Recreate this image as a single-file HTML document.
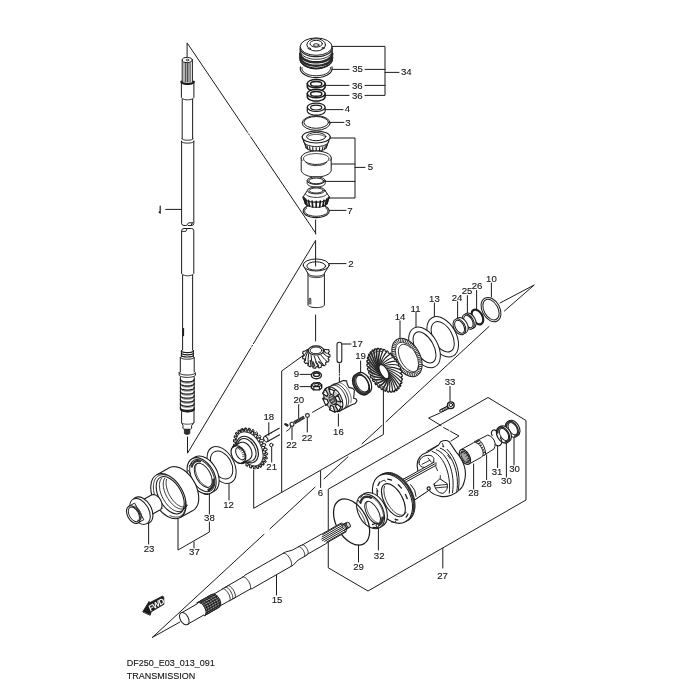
<!DOCTYPE html>
<html><head><meta charset="utf-8"><title>DF250 Transmission</title>
<style>
html,body{margin:0;padding:0;background:#fff;}
svg{display:block;}
text{font-family:"Liberation Sans",sans-serif;fill:#161616;}
</style></head><body>
<svg width="700" height="700" viewBox="0 0 700 700" stroke-linecap="round" stroke-linejoin="round">
<defs><filter id="soft" x="0" y="0" width="700" height="700" filterUnits="userSpaceOnUse"><feGaussianBlur stdDeviation="0.3"/></filter></defs>
<rect width="700" height="700" fill="#fff"/>
<g filter="url(#soft)">
<path d="M187.1,57 L187.1,42.9 L247.6,132.4 M248.7,134.0 L249.4,135.1 M250.6,136.8 L315.6,233 M315.6,220 L315.6,234" fill="none" stroke="#1c1c1c" stroke-width="1" />
<path d="M315.6,265 L315.6,240.4 L253.4,343.7 M252.4,345.4 L251.8,346.4 M250.8,348.0 L187.5,453.2 L187.5,437" fill="none" stroke="#1c1c1c" stroke-width="1" />
<path d="M315.6,315 L315.6,341" fill="none" stroke="#1c1c1c" stroke-width="1" />
<path d="M152.4,637.4 L264,534.3 M270,528.8 L315,487.2 M324,478.9 L348,456.8 M362,443.8 L382,425.4 M386,421.7 L489,326.5 M504.4,311 L534.3,284.9 L500,303 M152.4,637.4 L180,622" fill="none" stroke="#1c1c1c" stroke-width="1" />
<path d="M253.7,470 L253.7,508.3 L383.4,434.5 L383.4,388 M281.7,491.8 L281.7,371 L303,355.6 M320.6,471 L320.6,487.5" fill="none" stroke="#1c1c1c" stroke-width="1" />
<path d="M328.6,489 L488,397.5 L526,420.5 L526,500 L368,591 L328.6,568 Z M442.8,548.5 L442.8,568" fill="none" stroke="#1c1c1c" stroke-width="1" />
<path d="M332.4,46.4 H385 V95.4 H365 M332,69.4 H349 M365,69.4 H385 M385,72.4 H399 M325,85.4 H349 M365,85.4 H385 M325,95.4 H349" fill="none" stroke="#1c1c1c" stroke-width="1" />
<path d="M330,138 H355 V198 H329 M331,164 H355 M325,181.4 H355 M355,167.4 H365" fill="none" stroke="#1c1c1c" stroke-width="1" />
<path d="M325,109.6 H343 M330,122.4 H344 M329.4,210.4 H346 M329,263.6 H346 M165.7,209.4 H181.4" fill="none" stroke="#1c1c1c" stroke-width="1" />
<path d="M341.4,344 H351 M360.6,361 V373 M400,321 V338 M416,312.4 V327 M434.4,303 V317 M457.6,301.6 V318.4 M467.4,295.6 V313.6 M476.6,290.4 V310 M491.4,283 V297" fill="none" stroke="#1c1c1c" stroke-width="1" />
<path d="M300,374.4 H311 M300,386.6 H311 M298.7,404.6 V418 M268.8,422.6 V435.4 M292,426.9 V439.7 M307.3,418.3 V432 M338.4,414 V426 M271.7,447.4 V462 M450,386.4 V401" fill="none" stroke="#1c1c1c" stroke-width="1" />
<path d="M229,484 V500 M209.4,494 V514 M209.4,522 V532 L178,550 V519 M194,542 V548 M148.6,523 V544 M276.5,573.8 V595 M358.5,545 V562 M378.4,524 V550" fill="none" stroke="#1c1c1c" stroke-width="1" />
<path d="M473.6,464 V489 M486.6,455 V479.6 M497.6,445.6 V467.6 M506.4,441 V477 M514,437.6 V465" fill="none" stroke="#1c1c1c" stroke-width="1" />
<path d="M440,413 L428.6,418 L441,425.6 M443.6,427.6 L449,430.4 M450.5,431.3 L459,436 L451,441" fill="none" stroke="#1c1c1c" stroke-width="1" />
<path d="M312.5,412.3 L324,405.8" fill="none" stroke="#1c1c1c" stroke-width="1" />
<path d="M339.4,364.1 V372.7 M339.4,374 V375.3 M339.4,377 V386" fill="none" stroke="#1c1c1c" stroke-width="1" />
<ellipse cx="491.0" cy="309.6" rx="8.8" ry="13.0" transform="rotate(-29.0 491.0 309.6)" fill="#fff" stroke="#1c1c1c" stroke-width="1" />
<ellipse cx="491.0" cy="309.6" rx="7.0" ry="11.1" transform="rotate(-29.0 491.0 309.6)" fill="#fff" stroke="#1c1c1c" stroke-width="1" />
<ellipse cx="477.4" cy="317.0" rx="5.0" ry="8.0" transform="rotate(-29.0 477.4 317.0)" fill="#fff" stroke="#1c1c1c" stroke-width="2.2" />
<ellipse cx="470.0" cy="320.6" rx="5.3" ry="8.2" transform="rotate(-29.0 470.0 320.6)" fill="#fff" stroke="#1c1c1c" stroke-width="1" />
<ellipse cx="468.2" cy="321.6" rx="5.3" ry="8.2" transform="rotate(-29.0 468.2 321.6)" fill="#fff" stroke="#1c1c1c" stroke-width="1" />
<ellipse cx="468.4" cy="321.5" rx="3.9" ry="6.7" transform="rotate(-29.0 468.4 321.5)" fill="#fff" stroke="#1c1c1c" stroke-width="1" />
<ellipse cx="461.8" cy="325.4" rx="5.6" ry="8.5" transform="rotate(-29.0 461.8 325.4)" fill="#fff" stroke="#1c1c1c" stroke-width="1" />
<ellipse cx="459.4" cy="326.8" rx="5.6" ry="8.5" transform="rotate(-29.0 459.4 326.8)" fill="#fff" stroke="#1c1c1c" stroke-width="1" />
<ellipse cx="459.6" cy="326.7" rx="4.2" ry="7.0" transform="rotate(-29.0 459.6 326.7)" fill="#fff" stroke="#1c1c1c" stroke-width="1" />
<ellipse cx="442.7" cy="336.8" rx="13.5" ry="21.8" transform="rotate(-29.0 442.7 336.8)" fill="#fff" stroke="#1c1c1c" stroke-width="1" />
<ellipse cx="442.7" cy="336.8" rx="9.6" ry="16.5" transform="rotate(-29.0 442.7 336.8)" fill="#fff" stroke="#1c1c1c" stroke-width="1" />
<ellipse cx="424.5" cy="347.4" rx="13.4" ry="22.0" transform="rotate(-29.0 424.5 347.4)" fill="#fff" stroke="#1c1c1c" stroke-width="1" />
<ellipse cx="424.5" cy="347.4" rx="9.1" ry="17.0" transform="rotate(-29.0 424.5 347.4)" fill="#fff" stroke="#1c1c1c" stroke-width="1" />
<ellipse cx="407.0" cy="357.5" rx="13.0" ry="20.7" transform="rotate(-29.0 407.0 357.5)" fill="#fff" stroke="#1c1c1c" stroke-width="1" />
<ellipse cx="407.0" cy="357.5" rx="11.3" ry="18.8" transform="rotate(-29.0 407.0 357.5)" fill="#fff" stroke="#2a2a2a" stroke-width="3.3" stroke-dasharray="0.9 0.9" stroke-linecap="butt"/>
<ellipse cx="407.0" cy="357.5" rx="9.6" ry="16.8" transform="rotate(-29.0 407.0 357.5)" fill="#fff" stroke="#1c1c1c" stroke-width="0.8" />
<path d="M410.9,348.1 L409.7,347.0 L408.5,346.1 L407.3,345.4 L406.0,344.8 L404.9,344.5 L403.7,344.3 L402.7,344.4 L401.7,344.6 L400.9,345.1 L400.1,345.8 L399.5,346.6 L399.0,347.6 L398.7,348.8 L398.5,350.0 L398.4,351.5 L398.5,353.0 L398.8,354.6 L399.2,356.2 L399.7,357.9 L400.3,359.5 L401.1,361.2 L402.0,362.8 L403.0,364.3 L404.1,365.7 L405.2,367.1 L406.4,368.2 L407.6,369.3 L408.9,370.1 L410.1,370.8 L411.3,371.3 L412.5,371.6 L413.6,371.7 L414.6,371.6 L415.5,371.2 L416.4,370.7 L417.1,370.0 L417.7,369.1 L418.1,368.1 L418.4,366.9 L418.6,365.6" fill="none" stroke="#1c1c1c" stroke-width="0.9" />
<path d="M331.9,66.9 L332.1,68.2 L332.0,69.6 L331.6,70.9 L330.8,72.1 L329.7,73.3 L328.4,74.3 L326.8,75.3 L324.9,76.1 L322.9,76.7 L320.8,77.2 L318.5,77.5 L316.2,77.6 L313.9,77.5 L311.6,77.2 L309.5,76.7 L307.5,76.1 L305.6,75.3 L304.0,74.3 L302.7,73.3 L301.6,72.1 L300.8,70.9 L300.4,69.6 L300.3,68.2 L300.5,66.9" fill="none" stroke="#1c1c1c" stroke-width="1.1" />
<path d="M330.4,67.6 L330.5,68.7 L330.2,69.7 L329.7,70.7 L329.0,71.7 L328.0,72.6 L326.7,73.4 L325.3,74.1 L323.7,74.7 L322.0,75.2 L320.1,75.5 L318.2,75.7 L316.2,75.8 L314.2,75.7 L312.3,75.5 L310.4,75.2 L308.7,74.7 L307.1,74.1 L305.7,73.4 L304.4,72.6 L303.4,71.7 L302.7,70.7 L302.2,69.7 L301.9,68.7 L302.0,67.6" fill="none" stroke="#1c1c1c" stroke-width="1.0" />
<path d="M300.2,46.8 V60 L300.2,60.0 L300.3,61.1 L300.7,62.3 L301.4,63.3 L302.3,64.3 L303.5,65.3 L304.9,66.2 L306.5,66.9 L308.2,67.5 L310.1,68.0 L312.1,68.4 L314.1,68.6 L316.2,68.7 L318.3,68.6 L320.3,68.4 L322.3,68.0 L324.2,67.5 L325.9,66.9 L327.5,66.2 L328.9,65.3 L330.1,64.3 L331.0,63.3 L331.7,62.3 L332.1,61.1 L332.2,60.0 V46.8 Z" fill="#fff" stroke="#1c1c1c" stroke-width="1" />
<path d="M303.9,62.8 L304.2,63.6 L304.7,64.4 L305.4,65.2 L306.2,65.9 L307.1,66.6 L308.2,67.2 L309.3,67.7 L310.6,68.1 L311.9,68.5 L313.3,68.7 L314.7,68.8 L316.2,68.9 L317.7,68.8 L319.1,68.7 L320.5,68.5 L321.8,68.1 L323.1,67.7 L324.2,67.2 L325.3,66.6 L326.2,65.9 L327.0,65.2 L327.7,64.4 L328.2,63.6 L328.5,62.8" fill="none" stroke="#1c1c1c" stroke-width="1.0" />
<path d="M300.2,48.3 L300.4,49.4 L300.9,50.5 L301.6,51.5 L302.5,52.5 L303.7,53.4 L305.1,54.3 L306.6,55.0 L308.4,55.6 L310.2,56.1 L312.1,56.4 L314.2,56.6 L316.2,56.7 L318.2,56.6 L320.3,56.4 L322.2,56.1 L324.0,55.6 L325.8,55.0 L327.3,54.3 L328.7,53.4 L329.9,52.5 L330.8,51.5 L331.5,50.5 L332.0,49.4 L332.2,48.3" fill="none" stroke="#222" stroke-width="1.2" />
<path d="M300.2,50.9 L300.4,52.0 L300.9,53.1 L301.6,54.1 L302.5,55.1 L303.7,56.0 L305.1,56.9 L306.6,57.6 L308.4,58.2 L310.2,58.7 L312.1,59.0 L314.2,59.2 L316.2,59.3 L318.2,59.2 L320.3,59.0 L322.2,58.7 L324.0,58.2 L325.8,57.6 L327.3,56.9 L328.7,56.0 L329.9,55.1 L330.8,54.1 L331.5,53.1 L332.0,52.0 L332.2,50.9" fill="none" stroke="#333" stroke-width="1.0" />
<path d="M300.2,53.9 L300.4,55.0 L300.9,56.1 L301.6,57.1 L302.5,58.1 L303.7,59.0 L305.1,59.9 L306.6,60.6 L308.4,61.2 L310.2,61.7 L312.1,62.0 L314.2,62.2 L316.2,62.3 L318.2,62.2 L320.3,62.0 L322.2,61.7 L324.0,61.2 L325.8,60.6 L327.3,59.9 L328.7,59.0 L329.9,58.1 L330.8,57.1 L331.5,56.1 L332.0,55.0 L332.2,53.9" fill="none" stroke="#2a2a2a" stroke-width="2.6" />
<path d="M300.2,57.3 L300.4,58.4 L300.9,59.5 L301.6,60.5 L302.5,61.5 L303.7,62.4 L305.1,63.3 L306.6,64.0 L308.4,64.6 L310.2,65.1 L312.1,65.4 L314.2,65.6 L316.2,65.7 L318.2,65.6 L320.3,65.4 L322.2,65.1 L324.0,64.6 L325.8,64.0 L327.3,63.3 L328.7,62.4 L329.9,61.5 L330.8,60.5 L331.5,59.5 L332.0,58.4 L332.2,57.3" fill="none" stroke="#2a2a2a" stroke-width="2.4" />
<path d="M300.2,59.6 L300.4,60.7 L300.9,61.8 L301.6,62.8 L302.5,63.8 L303.7,64.7 L305.1,65.6 L306.6,66.3 L308.4,66.9 L310.2,67.4 L312.1,67.7 L314.2,67.9 L316.2,68.0 L318.2,67.9 L320.3,67.7 L322.2,67.4 L324.0,66.9 L325.8,66.3 L327.3,65.6 L328.7,64.7 L329.9,63.8 L330.8,62.8 L331.5,61.8 L332.0,60.7 L332.2,59.6" fill="none" stroke="#222" stroke-width="1.2" />
<ellipse cx="316.2" cy="46.6" rx="16.0" ry="8.7" fill="#fff" stroke="#1c1c1c" stroke-width="1"/>
<ellipse cx="316.2" cy="44.8" rx="9.3" ry="6.2" fill="#fff" stroke="#1c1c1c" stroke-width="1"/>
<ellipse cx="316.2" cy="43.7" rx="6.2" ry="3.4" fill="#fff" stroke="#1c1c1c" stroke-width="1"/>
<ellipse cx="316.2" cy="45.0" rx="2.8" ry="1.3" fill="#fff" stroke="#1c1c1c" stroke-width="0.9"/>
<ellipse cx="309.3" cy="48.4" rx="1.2" ry="0.7" fill="none" stroke="#1c1c1c" stroke-width="0.8"/>
<ellipse cx="323.0" cy="48.1" rx="1.2" ry="0.7" fill="none" stroke="#1c1c1c" stroke-width="0.8"/>
<path d="M307.3,83.6 V86.8 L307.3,86.8 L307.4,87.3 L307.6,87.9 L308.0,88.4 L308.5,88.9 L309.1,89.4 L309.9,89.8 L310.8,90.1 L311.8,90.4 L312.8,90.7 L313.9,90.9 L315.0,91.0 L316.2,91.0 L317.4,91.0 L318.5,90.9 L319.6,90.7 L320.6,90.4 L321.6,90.1 L322.5,89.8 L323.3,89.4 L323.9,88.9 L324.4,88.4 L324.8,87.9 L325.0,87.3 L325.1,86.8 V83.6" fill="#fff" stroke="#1c1c1c" stroke-width="1.5" />
<ellipse cx="316.2" cy="83.6" rx="8.9" ry="4.2" fill="#fff" stroke="#1c1c1c" stroke-width="1.5"/>
<ellipse cx="316.2" cy="83.9" rx="5.6" ry="2.3" fill="#fff" stroke="#1c1c1c" stroke-width="1.5"/>
<path d="M307.3,93.6 V96.8 L307.3,96.8 L307.4,97.3 L307.6,97.9 L308.0,98.4 L308.5,98.9 L309.1,99.4 L309.9,99.8 L310.8,100.1 L311.8,100.4 L312.8,100.7 L313.9,100.9 L315.0,101.0 L316.2,101.0 L317.4,101.0 L318.5,100.9 L319.6,100.7 L320.6,100.4 L321.6,100.1 L322.5,99.8 L323.3,99.4 L323.9,98.9 L324.4,98.4 L324.8,97.9 L325.0,97.3 L325.1,96.8 V93.6" fill="#fff" stroke="#1c1c1c" stroke-width="1.5" />
<ellipse cx="316.2" cy="93.6" rx="8.9" ry="4.2" fill="#fff" stroke="#1c1c1c" stroke-width="1.5"/>
<ellipse cx="316.2" cy="93.9" rx="5.6" ry="2.3" fill="#fff" stroke="#1c1c1c" stroke-width="1.5"/>
<path d="M307.3,107.3 V110.89999999999999 L307.3,110.9 L307.4,111.4 L307.6,112.0 L308.0,112.5 L308.5,113.0 L309.1,113.5 L309.9,113.9 L310.8,114.2 L311.8,114.5 L312.8,114.8 L313.9,115.0 L315.0,115.1 L316.2,115.1 L317.4,115.1 L318.5,115.0 L319.6,114.8 L320.6,114.5 L321.6,114.2 L322.5,113.9 L323.3,113.5 L323.9,113.0 L324.4,112.5 L324.8,112.0 L325.0,111.4 L325.1,110.9 V107.3" fill="#fff" stroke="#1c1c1c" stroke-width="1.2" />
<ellipse cx="316.2" cy="107.3" rx="8.9" ry="4.2" fill="#fff" stroke="#1c1c1c" stroke-width="1.2"/>
<ellipse cx="316.2" cy="107.6" rx="5.6" ry="2.4" fill="#fff" stroke="#1c1c1c" stroke-width="1.2"/>
<ellipse cx="316.2" cy="123.0" rx="14.0" ry="7.3" fill="none" stroke="#1c1c1c" stroke-width="1"/>
<ellipse cx="316.2" cy="122.4" rx="12.3" ry="5.9" fill="none" stroke="#1c1c1c" stroke-width="1"/>
<path d="M302.2,137 L305.7,146.5 L305.7,146.5 L305.8,147.1 L306.1,147.7 L306.5,148.3 L307.1,148.8 L307.9,149.3 L308.8,149.8 L309.8,150.1 L310.9,150.5 L312.2,150.7 L313.5,150.9 L314.8,151.1 L316.2,151.1 L317.6,151.1 L318.9,150.9 L320.2,150.7 L321.4,150.5 L322.6,150.1 L323.6,149.8 L324.5,149.3 L325.3,148.8 L325.9,148.3 L326.3,147.7 L326.6,147.1 L326.7,146.5 L330.2,137 Z" fill="#fff" stroke="#1c1c1c" stroke-width="1" />
<path d="M303.6,141.5 L303.9,142.2 L304.3,142.8 L304.9,143.5 L305.7,144.1 L306.6,144.6 L307.7,145.1 L308.9,145.6 L310.2,145.9 L311.6,146.2 L313.1,146.4 L314.6,146.6 L316.2,146.6 L317.8,146.6 L319.3,146.4 L320.8,146.2 L322.2,145.9 L323.5,145.6 L324.7,145.1 L325.8,144.6 L326.7,144.1 L327.5,143.5 L328.1,142.8 L328.5,142.2 L328.8,141.5" fill="none" stroke="#1c1c1c" stroke-width="1.0" />
<path d="M305.3,144.4 L306.3,148.1" fill="none" stroke="#1c1c1c" stroke-width="1.1" />
<path d="M307.0,145.8 L307.9,149.3" fill="none" stroke="#1c1c1c" stroke-width="1.1" />
<path d="M309.5,146.9 L310.2,150.3" fill="none" stroke="#1c1c1c" stroke-width="1.1" />
<path d="M312.7,147.6 L313.0,150.9" fill="none" stroke="#1c1c1c" stroke-width="1.1" />
<path d="M316.2,147.8 L316.2,151.1" fill="none" stroke="#1c1c1c" stroke-width="1.1" />
<path d="M319.7,147.6 L319.4,150.9" fill="none" stroke="#1c1c1c" stroke-width="1.1" />
<path d="M322.9,146.9 L322.2,150.3" fill="none" stroke="#1c1c1c" stroke-width="1.1" />
<path d="M325.4,145.8 L324.5,149.3" fill="none" stroke="#1c1c1c" stroke-width="1.1" />
<path d="M327.1,144.4 L326.1,148.1" fill="none" stroke="#1c1c1c" stroke-width="1.1" />
<ellipse cx="316.2" cy="137.0" rx="14.0" ry="6.0" fill="#fff" stroke="#1c1c1c" stroke-width="1.2"/>
<ellipse cx="316.2" cy="136.6" rx="9.6" ry="4.1" fill="#fff" stroke="#1c1c1c" stroke-width="1"/>
<path d="M308.1,136.5 L308.5,136.2 L308.9,135.9 L309.4,135.7 L309.9,135.4 L310.6,135.2 L311.3,135.0 L312.0,134.8 L312.8,134.7 L313.6,134.5 L314.5,134.5 L315.3,134.4 L316.2,134.4 L317.1,134.4 L317.9,134.5 L318.8,134.5 L319.6,134.7 L320.4,134.8 L321.1,135.0 L321.8,135.2 L322.5,135.4 L323.0,135.7 L323.5,135.9 L323.9,136.2 L324.3,136.5" fill="none" stroke="#1c1c1c" stroke-width="0.8" />
<path d="M301.2,158 V170 L301.2,170.0 L301.3,170.9 L301.7,171.8 L302.3,172.7 L303.2,173.5 L304.3,174.3 L305.6,174.9 L307.1,175.6 L308.7,176.1 L310.5,176.5 L312.3,176.8 L314.2,176.9 L316.2,177.0 L318.2,176.9 L320.1,176.8 L321.9,176.5 L323.7,176.1 L325.3,175.6 L326.8,174.9 L328.1,174.3 L329.2,173.5 L330.1,172.7 L330.7,171.8 L331.1,170.9 L331.2,170.0 V158 Z" fill="#fff" stroke="#1c1c1c" stroke-width="1" />
<ellipse cx="316.2" cy="158.0" rx="15.0" ry="7.0" fill="#fff" stroke="none" stroke-width="1"/>
<path d="M302.1,160.4 L301.5,159.3 L301.2,158.2 L301.3,157.1 L301.8,156.0 L302.7,154.9 L303.9,154.0 L305.4,153.1 L307.2,152.4 L309.3,151.8 L311.5,151.4 L313.8,151.1 L316.2,151.0 L318.6,151.1 L320.9,151.4 L323.1,151.8 L325.2,152.4 L327.0,153.1 L328.5,154.0 L329.7,154.9 L330.6,156.0 L331.1,157.1 L331.2,158.2 L330.9,159.3 L330.3,160.4" fill="none" stroke="#1c1c1c" stroke-width="1" />
<path d="M328.8,158.8 L328.7,159.5 L328.4,160.2 L327.8,160.9 L327.1,161.6 L326.2,162.2 L325.1,162.8 L323.9,163.2 L322.5,163.6 L321.0,164.0 L319.5,164.2 L317.8,164.4 L316.2,164.4 L314.6,164.4 L312.9,164.2 L311.4,164.0 L309.9,163.6 L308.5,163.2 L307.3,162.8 L306.2,162.2 L305.3,161.6 L304.6,160.9 L304.0,160.2 L303.7,159.5 L303.6,158.8" fill="none" stroke="#1c1c1c" stroke-width="1.0" />
<path d="M303.6,158.2 L303.7,157.6 L304.0,157.0 L304.6,156.4 L305.3,155.9 L306.2,155.4 L307.3,154.9 L308.5,154.6 L309.9,154.2 L311.4,154.0 L312.9,153.8 L314.6,153.6 L316.2,153.6 L317.8,153.6 L319.5,153.8 L321.0,154.0 L322.5,154.2 L323.9,154.6 L325.1,154.9 L326.2,155.4 L327.1,155.9 L327.8,156.4 L328.4,157.0 L328.7,157.6 L328.8,158.2" fill="none" stroke="#1c1c1c" stroke-width="0.8" />
<path d="M306.0,162.3 L306.2,162.7 L306.7,163.2 L307.2,163.6 L307.9,164.0 L308.6,164.3 L309.5,164.7 L310.5,164.9 L311.5,165.2 L312.6,165.4 L313.8,165.5 L315.0,165.6 L316.2,165.6 L317.4,165.6 L318.6,165.5 L319.8,165.4 L320.9,165.2 L321.9,164.9 L322.9,164.7 L323.8,164.3 L324.5,164.0 L325.2,163.6 L325.7,163.2 L326.2,162.7 L326.4,162.3" fill="none" stroke="#1c1c1c" stroke-width="0.9" />
<path d="M307.2,180.6 V183.2 L307.2,183.2 L307.3,183.7 L307.5,184.2 L307.9,184.7 L308.4,185.1 L309.1,185.5 L309.8,185.9 L310.7,186.2 L311.7,186.5 L312.8,186.7 L313.9,186.9 L315.0,187.0 L316.2,187.0 L317.4,187.0 L318.5,186.9 L319.6,186.7 L320.7,186.5 L321.7,186.2 L322.6,185.9 L323.3,185.5 L324.0,185.1 L324.5,184.7 L324.9,184.2 L325.1,183.7 L325.2,183.2 V180.6" fill="#fff" stroke="#1c1c1c" stroke-width="1.0" />
<ellipse cx="316.2" cy="180.6" rx="9.0" ry="3.8" fill="#fff" stroke="#1c1c1c" stroke-width="1.0"/>
<ellipse cx="316.2" cy="180.9" rx="7.4" ry="2.9" fill="#fff" stroke="#1c1c1c" stroke-width="1.0"/>
<path d="M307.4,190.5 L303.0,197 L305.0,203 L305.0,203.0 L305.1,203.6 L305.4,204.1 L305.9,204.6 L306.5,205.2 L307.3,205.6 L308.3,206.0 L309.4,206.4 L310.6,206.7 L311.9,207.0 L313.3,207.2 L314.7,207.3 L316.2,207.3 L317.7,207.3 L319.1,207.2 L320.5,207.0 L321.8,206.7 L323.0,206.4 L324.1,206.0 L325.1,205.6 L325.9,205.2 L326.5,204.6 L327.0,204.1 L327.3,203.6 L327.4,203.0 L329.4,197 L325.0,190.5 Z" fill="#fff" stroke="#1c1c1c" stroke-width="1" />
<path d="M303.0,197.0 L303.1,197.7 L303.4,198.3 L304.0,199.0 L304.8,199.6 L305.7,200.2 L306.9,200.7 L308.2,201.1 L309.6,201.5 L311.1,201.8 L312.8,202.0 L314.5,202.2 L316.2,202.2 L317.9,202.2 L319.6,202.0 L321.3,201.8 L322.8,201.5 L324.2,201.1 L325.5,200.7 L326.7,200.2 L327.6,199.6 L328.4,199.0 L329.0,198.3 L329.3,197.7 L329.4,197.0" fill="none" stroke="#1c1c1c" stroke-width="1.2" />
<path d="M305.6,193.7 L305.8,194.2 L306.2,194.7 L306.7,195.2 L307.3,195.6 L308.1,196.0 L309.0,196.3 L310.1,196.7 L311.2,196.9 L312.4,197.1 L313.6,197.3 L314.9,197.4 L316.2,197.4 L317.5,197.4 L318.8,197.3 L320.0,197.1 L321.2,196.9 L322.3,196.7 L323.4,196.3 L324.3,196.0 L325.1,195.6 L325.7,195.2 L326.2,194.7 L326.6,194.2 L326.8,193.7" fill="none" stroke="#1c1c1c" stroke-width="0.9" />
<path d="M304.0,197.7 L305.6,203.9" fill="none" stroke="#1c1c1c" stroke-width="1.7" />
<path d="M305.7,199.2 L307.1,205.1" fill="none" stroke="#1c1c1c" stroke-width="1.7" />
<path d="M308.5,200.4 L309.5,206.1" fill="none" stroke="#1c1c1c" stroke-width="1.7" />
<path d="M312.1,201.1 L312.7,206.8" fill="none" stroke="#1c1c1c" stroke-width="1.7" />
<path d="M316.2,201.4 L316.2,207.0" fill="none" stroke="#1c1c1c" stroke-width="1.7" />
<path d="M320.3,201.1 L319.7,206.8" fill="none" stroke="#1c1c1c" stroke-width="1.7" />
<path d="M323.9,200.4 L322.9,206.1" fill="none" stroke="#1c1c1c" stroke-width="1.7" />
<path d="M326.7,199.2 L325.3,205.1" fill="none" stroke="#1c1c1c" stroke-width="1.7" />
<path d="M328.4,197.7 L326.8,203.9" fill="none" stroke="#1c1c1c" stroke-width="1.7" />
<ellipse cx="316.2" cy="190.5" rx="8.8" ry="3.4" fill="#fff" stroke="#1c1c1c" stroke-width="1"/>
<ellipse cx="316.2" cy="190.5" rx="7.0" ry="2.5" fill="#fff" stroke="#1c1c1c" stroke-width="0.9"/>
<path d="M322.7,205.3 L325.0,206.1 L326.8,207.2 L328.2,208.5 L329.0,209.9 L329.2,211.3 L328.8,212.7 L327.7,214.0 L326.2,215.2 L324.1,216.2 L321.7,217.0 L319.0,217.4 L316.2,217.6 L313.4,217.4 L310.7,217.0 L308.3,216.2 L306.2,215.2 L304.7,214.0 L303.6,212.7 L303.2,211.3 L303.4,209.9 L304.2,208.5 L305.6,207.2 L307.4,206.1 L309.7,205.3" fill="none" stroke="#1c1c1c" stroke-width="1.1" />
<path d="M325.7,208.0 L326.7,208.8 L327.4,209.7 L327.8,210.7 L327.7,211.6 L327.3,212.6 L326.5,213.4 L325.4,214.3 L323.9,215.0 L322.2,215.5 L320.3,216.0 L318.3,216.2 L316.2,216.3 L314.1,216.2 L312.1,216.0 L310.2,215.5 L308.5,215.0 L307.0,214.3 L305.9,213.4 L305.1,212.6 L304.7,211.6 L304.6,210.7 L305.0,209.7 L305.7,208.8 L306.7,208.0" fill="none" stroke="#1c1c1c" stroke-width="1.0" />
<path d="M308.0,273 V305 L308.0,305.0 L308.1,305.3 L308.3,305.7 L308.6,306.0 L309.1,306.3 L309.7,306.6 L310.4,306.8 L311.2,307.1 L312.1,307.3 L313.1,307.4 L314.1,307.5 L315.1,307.6 L316.2,307.6 L317.3,307.6 L318.3,307.5 L319.3,307.4 L320.3,307.3 L321.2,307.1 L322.0,306.8 L322.7,306.6 L323.3,306.3 L323.8,306.0 L324.1,305.7 L324.3,305.3 L324.4,305.0 V273 Z" fill="#fff" stroke="#1c1c1c" stroke-width="1" />
<path d="M303.2,265.5 L308.0,273.5 L308.0,273.2 L308.1,273.6 L308.3,274.0 L308.6,274.3 L309.1,274.7 L309.7,275.0 L310.4,275.3 L311.2,275.6 L312.1,275.8 L313.1,276.0 L314.1,276.1 L315.1,276.2 L316.2,276.2 L317.3,276.2 L318.3,276.1 L319.3,276.0 L320.3,275.8 L321.2,275.6 L322.0,275.3 L322.7,275.0 L323.3,274.7 L323.8,274.3 L324.1,274.0 L324.3,273.6 L324.4,273.2 L329.2,265.5" fill="#fff" stroke="#1c1c1c" stroke-width="1" />
<ellipse cx="316.2" cy="265.0" rx="13.0" ry="6.0" fill="#fff" stroke="#1c1c1c" stroke-width="1"/>
<ellipse cx="316.2" cy="266.0" rx="9.4" ry="4.2" fill="#fff" stroke="#1c1c1c" stroke-width="1"/>
<path d="M308.1,275.1 L308.3,275.5 L308.7,275.8 L309.1,276.1 L309.6,276.4 L310.2,276.7 L310.9,276.9 L311.7,277.1 L312.5,277.3 L313.4,277.4 L314.3,277.5 L315.2,277.6 L316.2,277.6 L317.2,277.6 L318.1,277.5 L319.0,277.4 L319.9,277.3 L320.7,277.1 L321.5,276.9 L322.2,276.7 L322.8,276.4 L323.3,276.1 L323.7,275.8 L324.1,275.5 L324.3,275.1" fill="none" stroke="#1c1c1c" stroke-width="0.9" />
<path d="M309.2,304 V298.6 Q310,297.4 310.8,298.6 V304" fill="none" stroke="#1c1c1c" stroke-width="0.9" />
<path d="M315.6,258 V266" fill="none" stroke="#1c1c1c" stroke-width="1" />
<path d="M182.2,60 V83 H192.4 V60 Z" fill="#fff" stroke="#1c1c1c" stroke-width="1" />
<path d="M184,62.5 V82.5" fill="none" stroke="#666" stroke-width="1.0" />
<path d="M185.6,62.5 V82.5" fill="none" stroke="#555" stroke-width="1.2" />
<path d="M187.3,62.5 V82.5" fill="none" stroke="#444" stroke-width="1.3" />
<path d="M189,62.5 V82.5" fill="none" stroke="#555" stroke-width="1.2" />
<path d="M190.6,62.5 V82.5" fill="none" stroke="#777" stroke-width="1.0" />
<ellipse cx="187.3" cy="60.0" rx="5.1" ry="2.6" fill="#fff" stroke="#1c1c1c" stroke-width="1"/>
<ellipse cx="187.4" cy="60.0" rx="1.3" ry="0.8" fill="none" stroke="#1c1c1c" stroke-width="0.8"/>
<path d="M181.4,82.5 V97.2 L181.3,97.2 L181.4,97.5 L181.5,97.9 L181.8,98.2 L182.1,98.5 L182.6,98.8 L183.1,99.0 L183.8,99.3 L184.4,99.5 L185.2,99.6 L186.0,99.7 L186.8,99.8 L187.6,99.8 L188.4,99.8 L189.2,99.7 L190.0,99.6 L190.8,99.5 L191.4,99.3 L192.1,99.0 L192.6,98.8 L193.1,98.5 L193.4,98.2 L193.7,97.9 L193.8,97.5 L193.9,97.2 V82.5" fill="#fff" stroke="#1c1c1c" stroke-width="1" />
<path d="M181.3,81.6 L181.4,81.9 L181.5,82.2 L181.8,82.5 L182.1,82.8 L182.6,83.1 L183.1,83.3 L183.8,83.5 L184.4,83.7 L185.2,83.8 L186.0,83.9 L186.8,84.0 L187.6,84.0 L188.4,84.0 L189.2,83.9 L190.0,83.8 L190.8,83.7 L191.4,83.5 L192.1,83.3 L192.6,83.1 L193.1,82.8 L193.4,82.5 L193.7,82.2 L193.8,81.9 L193.9,81.6" fill="none" stroke="#1c1c1c" stroke-width="2.0" />
<path d="M182.2,99.4 V138.5 M192.6,99.4 V138.5" fill="none" stroke="#1c1c1c" stroke-width="1" />
<path d="M181.9,138.6 L181.9,138.8 L182.1,139.0 L182.3,139.2 L182.7,139.4 L183.1,139.6 L183.5,139.7 L184.1,139.9 L184.7,140.0 L185.4,140.1 L186.1,140.1 L186.8,140.2 L187.5,140.2 L188.2,140.2 L188.9,140.1 L189.6,140.1 L190.3,140.0 L190.9,139.9 L191.5,139.7 L191.9,139.6 L192.3,139.4 L192.7,139.2 L192.9,139.0 L193.1,138.8 L193.1,138.6 M181.3,141.3 L181.4,141.5 L181.5,141.8 L181.8,142.0 L182.1,142.2 L182.6,142.4 L183.1,142.6 L183.8,142.7 L184.4,142.9 L185.2,143.0 L186.0,143.0 L186.8,143.1 L187.6,143.1 L188.4,143.1 L189.2,143.0 L190.0,143.0 L190.8,142.9 L191.4,142.7 L192.1,142.6 L192.6,142.4 L193.1,142.2 L193.4,142.0 L193.7,141.8 L193.8,141.5 L193.9,141.3" fill="none" stroke="#1c1c1c" stroke-width="1.0" />
<path d="M181.6,141 V223.4 Q181.7,225.5 184,225.5 H186.4 L188.6,222.8 H192.4 M193.8,141 V223.6 Q193.7,225.4 191.6,225.5 H188.2 M192.4,222.8 L191,225.4" fill="none" stroke="#1c1c1c" stroke-width="1.0" />
<path d="M181.6,273 V230.8 Q181.7,228.5 184,228.5 H191.4 Q193.7,228.5 193.8,230.8 V273 L193.8,273.0 L193.7,273.4 L193.6,273.7 L193.3,274.1 L193.0,274.4 L192.5,274.7 L192.0,275.0 L191.4,275.2 L190.8,275.4 L190.0,275.6 L189.3,275.7 L188.5,275.8 L187.7,275.8 L186.9,275.8 L186.1,275.7 L185.4,275.6 L184.6,275.4 L184.0,275.2 L183.4,275.0 L182.9,274.7 L182.4,274.4 L182.1,274.1 L181.8,273.7 L181.7,273.4 L181.6,273.0" fill="none" stroke="#1c1c1c" stroke-width="1.0" />
<path d="M181.9,231.4 H185.8 L187,228.8" fill="none" stroke="#1c1c1c" stroke-width="0.9" />
<path d="M182.6,275.3 V350 M192.6,275.3 V350" fill="none" stroke="#1c1c1c" stroke-width="1" />
<path d="M183.4,328.6 V335.6" fill="none" stroke="#1c1c1c" stroke-width="1.4" />
<path d="M181.4,351.0 L181.5,351.2 L181.6,351.4 L181.9,351.6 L182.2,351.8 L182.6,352.0 L183.2,352.1 L183.7,352.3 L184.4,352.4 L185.1,352.5 L185.8,352.5 L186.6,352.6 L187.4,352.6 L188.2,352.6 L189.0,352.5 L189.7,352.5 L190.4,352.4 L191.1,352.3 L191.6,352.1 L192.2,352.0 L192.6,351.8 L192.9,351.6 L193.2,351.4 L193.3,351.2 L193.4,351.0" fill="none" stroke="#1c1c1c" stroke-width="1.2" />
<path d="M181.4,353.2 L181.5,353.4 L181.6,353.6 L181.9,353.8 L182.2,354.0 L182.6,354.2 L183.2,354.3 L183.7,354.5 L184.4,354.6 L185.1,354.7 L185.8,354.7 L186.6,354.8 L187.4,354.8 L188.2,354.8 L189.0,354.7 L189.7,354.7 L190.4,354.6 L191.1,354.5 L191.6,354.3 L192.2,354.2 L192.6,354.0 L192.9,353.8 L193.2,353.6 L193.3,353.4 L193.4,353.2" fill="none" stroke="#1c1c1c" stroke-width="1.2" />
<path d="M181.4,355.4 L181.5,355.6 L181.6,355.8 L181.9,356.0 L182.2,356.2 L182.6,356.4 L183.2,356.5 L183.7,356.7 L184.4,356.8 L185.1,356.9 L185.8,356.9 L186.6,357.0 L187.4,357.0 L188.2,357.0 L189.0,356.9 L189.7,356.9 L190.4,356.8 L191.1,356.7 L191.6,356.5 L192.2,356.4 L192.6,356.2 L192.9,356.0 L193.2,355.8 L193.3,355.6 L193.4,355.4" fill="none" stroke="#1c1c1c" stroke-width="1.2" />
<path d="M181.4,350.5 V357 M193.4,350.5 V357" fill="none" stroke="#1c1c1c" stroke-width="1" />
<path d="M180.3,357.6 V372 M194.2,357.6 V372" fill="none" stroke="#1c1c1c" stroke-width="1" />
<path d="M180.4,357.4 L180.4,357.6 L180.6,357.9 L180.9,358.1 L181.3,358.3 L181.8,358.5 L182.4,358.7 L183.1,358.8 L183.8,359.0 L184.6,359.1 L185.5,359.1 L186.4,359.2 L187.3,359.2 L188.2,359.2 L189.1,359.1 L190.0,359.1 L190.8,359.0 L191.5,358.8 L192.2,358.7 L192.8,358.5 L193.3,358.3 L193.7,358.1 L194.0,357.9 L194.2,357.6 L194.2,357.4" fill="none" stroke="#1c1c1c" stroke-width="1.0" />
<path d="M179.2,372.6 V375 L179.2,375.0 L179.3,375.3 L179.5,375.6 L179.8,375.9 L180.3,376.2 L180.9,376.5 L181.6,376.7 L182.4,376.9 L183.2,377.1 L184.2,377.2 L185.2,377.3 L186.2,377.4 L187.3,377.4 L188.4,377.4 L189.4,377.3 L190.4,377.2 L191.4,377.1 L192.2,376.9 L193.0,376.7 L193.7,376.5 L194.3,376.2 L194.8,375.9 L195.1,375.6 L195.3,375.3 L195.4,375.0 V372.6 L195.4,372.6 L195.3,372.9 L195.1,373.2 L194.8,373.5 L194.3,373.8 L193.7,374.1 L193.0,374.3 L192.2,374.5 L191.4,374.7 L190.4,374.8 L189.4,374.9 L188.4,375.0 L187.3,375.0 L186.2,375.0 L185.2,374.9 L184.2,374.8 L183.2,374.7 L182.4,374.5 L181.6,374.3 L180.9,374.1 L180.3,373.8 L179.8,373.5 L179.5,373.2 L179.3,372.9 L179.2,372.6" fill="#fff" stroke="#1c1c1c" stroke-width="1.0" />
<path d="M180.4,379.3 L180.4,379.6 L180.5,380.0 L180.8,380.3 L181.1,380.6 L181.6,380.9 L182.2,381.2 L182.9,381.4 L183.7,381.6 L184.5,381.8 L185.4,381.9 L186.3,382.0 L187.3,382.0 L188.3,382.0 L189.2,381.9 L190.1,381.8 L190.9,381.6 L191.7,381.4 L192.4,381.2 L193.0,380.9 L193.5,380.6 L193.8,380.3 L194.1,380.0 L194.2,379.6 L194.2,379.3" fill="none" stroke="#1c1c1c" stroke-width="1.3" />
<path d="M181.0,381.3 L181.1,381.5 L181.3,381.8 L181.6,382.0 L182.0,382.2 L182.5,382.4 L183.0,382.6 L183.6,382.7 L184.3,382.9 L185.0,383.0 L185.8,383.0 L186.5,383.1 L187.3,383.1 L188.1,383.1 L188.8,383.0 L189.6,383.0 L190.3,382.9 L191.0,382.7 L191.6,382.6 L192.1,382.4 L192.6,382.2 L193.0,382.0 L193.3,381.8 L193.5,381.5 L193.6,381.3" fill="none" stroke="#555" stroke-width="0.7" />
<path d="M180.4,383.3 L180.4,383.7 L180.5,384.0 L180.8,384.4 L181.1,384.7 L181.6,385.0 L182.2,385.2 L182.9,385.5 L183.7,385.7 L184.5,385.8 L185.4,386.0 L186.3,386.0 L187.3,386.1 L188.3,386.0 L189.2,386.0 L190.1,385.8 L190.9,385.7 L191.7,385.5 L192.4,385.2 L193.0,385.0 L193.5,384.7 L193.8,384.4 L194.1,384.0 L194.2,383.7 L194.2,383.3" fill="none" stroke="#1c1c1c" stroke-width="1.3" />
<path d="M181.0,385.3 L181.1,385.6 L181.3,385.8 L181.6,386.0 L182.0,386.2 L182.5,386.4 L183.0,386.6 L183.6,386.8 L184.3,386.9 L185.0,387.0 L185.8,387.1 L186.5,387.1 L187.3,387.2 L188.1,387.1 L188.8,387.1 L189.6,387.0 L190.3,386.9 L191.0,386.8 L191.6,386.6 L192.1,386.4 L192.6,386.2 L193.0,386.0 L193.3,385.8 L193.5,385.6 L193.6,385.3" fill="none" stroke="#555" stroke-width="0.7" />
<path d="M180.4,387.4 L180.4,387.7 L180.5,388.1 L180.8,388.4 L181.1,388.7 L181.6,389.0 L182.2,389.3 L182.9,389.5 L183.7,389.7 L184.5,389.9 L185.4,390.0 L186.3,390.1 L187.3,390.1 L188.3,390.1 L189.2,390.0 L190.1,389.9 L190.9,389.7 L191.7,389.5 L192.4,389.3 L193.0,389.0 L193.5,388.7 L193.8,388.4 L194.1,388.1 L194.2,387.7 L194.2,387.4" fill="none" stroke="#1c1c1c" stroke-width="1.3" />
<path d="M181.0,389.4 L181.1,389.6 L181.3,389.9 L181.6,390.1 L182.0,390.3 L182.5,390.5 L183.0,390.7 L183.6,390.8 L184.3,391.0 L185.0,391.1 L185.8,391.1 L186.5,391.2 L187.3,391.2 L188.1,391.2 L188.8,391.1 L189.6,391.1 L190.3,391.0 L191.0,390.8 L191.6,390.7 L192.1,390.5 L192.6,390.3 L193.0,390.1 L193.3,389.9 L193.5,389.6 L193.6,389.4" fill="none" stroke="#555" stroke-width="0.7" />
<path d="M180.4,391.4 L180.4,391.8 L180.5,392.1 L180.8,392.5 L181.1,392.8 L181.6,393.1 L182.2,393.3 L182.9,393.6 L183.7,393.8 L184.5,393.9 L185.4,394.1 L186.3,394.1 L187.3,394.1 L188.3,394.1 L189.2,394.1 L190.1,393.9 L190.9,393.8 L191.7,393.6 L192.4,393.3 L193.0,393.1 L193.5,392.8 L193.8,392.5 L194.1,392.1 L194.2,391.8 L194.2,391.4" fill="none" stroke="#1c1c1c" stroke-width="1.3" />
<path d="M181.0,393.4 L181.1,393.7 L181.3,393.9 L181.6,394.1 L182.0,394.3 L182.5,394.5 L183.0,394.7 L183.6,394.9 L184.3,395.0 L185.0,395.1 L185.8,395.2 L186.5,395.2 L187.3,395.2 L188.1,395.2 L188.8,395.2 L189.6,395.1 L190.3,395.0 L191.0,394.9 L191.6,394.7 L192.1,394.5 L192.6,394.3 L193.0,394.1 L193.3,393.9 L193.5,393.7 L193.6,393.4" fill="none" stroke="#555" stroke-width="0.7" />
<path d="M180.4,395.5 L180.4,395.8 L180.5,396.2 L180.8,396.5 L181.1,396.8 L181.6,397.1 L182.2,397.4 L182.9,397.6 L183.7,397.8 L184.5,398.0 L185.4,398.1 L186.3,398.2 L187.3,398.2 L188.3,398.2 L189.2,398.1 L190.1,398.0 L190.9,397.8 L191.7,397.6 L192.4,397.4 L193.0,397.1 L193.5,396.8 L193.8,396.5 L194.1,396.2 L194.2,395.8 L194.2,395.5" fill="none" stroke="#1c1c1c" stroke-width="1.3" />
<path d="M181.0,397.5 L181.1,397.7 L181.3,398.0 L181.6,398.2 L182.0,398.4 L182.5,398.6 L183.0,398.8 L183.6,398.9 L184.3,399.1 L185.0,399.2 L185.8,399.2 L186.5,399.3 L187.3,399.3 L188.1,399.3 L188.8,399.2 L189.6,399.2 L190.3,399.1 L191.0,398.9 L191.6,398.8 L192.1,398.6 L192.6,398.4 L193.0,398.2 L193.3,398.0 L193.5,397.7 L193.6,397.5" fill="none" stroke="#555" stroke-width="0.7" />
<path d="M180.4,399.5 L180.4,399.9 L180.5,400.2 L180.8,400.6 L181.1,400.9 L181.6,401.2 L182.2,401.4 L182.9,401.7 L183.7,401.9 L184.5,402.0 L185.4,402.2 L186.3,402.2 L187.3,402.2 L188.3,402.2 L189.2,402.2 L190.1,402.0 L190.9,401.9 L191.7,401.7 L192.4,401.4 L193.0,401.2 L193.5,400.9 L193.8,400.6 L194.1,400.2 L194.2,399.9 L194.2,399.5" fill="none" stroke="#1c1c1c" stroke-width="1.3" />
<path d="M181.0,401.5 L181.1,401.8 L181.3,402.0 L181.6,402.2 L182.0,402.4 L182.5,402.6 L183.0,402.8 L183.6,403.0 L184.3,403.1 L185.0,403.2 L185.8,403.3 L186.5,403.3 L187.3,403.4 L188.1,403.3 L188.8,403.3 L189.6,403.2 L190.3,403.1 L191.0,403.0 L191.6,402.8 L192.1,402.6 L192.6,402.4 L193.0,402.2 L193.3,402.0 L193.5,401.8 L193.6,401.5" fill="none" stroke="#555" stroke-width="0.7" />
<path d="M180.4,403.6 L180.4,403.9 L180.5,404.3 L180.8,404.6 L181.1,404.9 L181.6,405.2 L182.2,405.5 L182.9,405.7 L183.7,405.9 L184.5,406.1 L185.4,406.2 L186.3,406.3 L187.3,406.3 L188.3,406.3 L189.2,406.2 L190.1,406.1 L190.9,405.9 L191.7,405.7 L192.4,405.5 L193.0,405.2 L193.5,404.9 L193.8,404.6 L194.1,404.3 L194.2,403.9 L194.2,403.6" fill="none" stroke="#1c1c1c" stroke-width="1.3" />
<path d="M181.0,405.6 L181.1,405.8 L181.3,406.1 L181.6,406.3 L182.0,406.5 L182.5,406.7 L183.0,406.9 L183.6,407.0 L184.3,407.2 L185.0,407.3 L185.8,407.3 L186.5,407.4 L187.3,407.4 L188.1,407.4 L188.8,407.3 L189.6,407.3 L190.3,407.2 L191.0,407.0 L191.6,406.9 L192.1,406.7 L192.6,406.5 L193.0,406.3 L193.3,406.1 L193.5,405.8 L193.6,405.6" fill="none" stroke="#555" stroke-width="0.7" />
<path d="M180.4,407.6 L180.4,408.0 L180.5,408.3 L180.8,408.7 L181.1,409.0 L181.6,409.3 L182.2,409.5 L182.9,409.8 L183.7,410.0 L184.5,410.1 L185.4,410.3 L186.3,410.3 L187.3,410.4 L188.3,410.3 L189.2,410.3 L190.1,410.1 L190.9,410.0 L191.7,409.8 L192.4,409.5 L193.0,409.3 L193.5,409.0 L193.8,408.7 L194.1,408.3 L194.2,408.0 L194.2,407.6" fill="none" stroke="#1c1c1c" stroke-width="1.3" />
<path d="M181.0,409.6 L181.1,409.9 L181.3,410.1 L181.6,410.3 L182.0,410.5 L182.5,410.7 L183.0,410.9 L183.6,411.1 L184.3,411.2 L185.0,411.3 L185.8,411.4 L186.5,411.4 L187.3,411.5 L188.1,411.4 L188.8,411.4 L189.6,411.3 L190.3,411.2 L191.0,411.1 L191.6,410.9 L192.1,410.7 L192.6,410.5 L193.0,410.3 L193.3,410.1 L193.5,409.9 L193.6,409.6" fill="none" stroke="#555" stroke-width="0.7" />
<path d="M180.4,377 V410 M194.2,377 V410" fill="none" stroke="#1c1c1c" stroke-width="1" />
<path d="M181.2,409.6 L181.3,409.9 L181.4,410.1 L181.7,410.4 L182.1,410.6 L182.5,410.8 L183.1,411.0 L183.7,411.2 L184.4,411.3 L185.2,411.4 L185.9,411.5 L186.8,411.6 L187.6,411.6 L188.4,411.6 L189.3,411.5 L190.0,411.4 L190.8,411.3 L191.5,411.2 L192.1,411.0 L192.7,410.8 L193.1,410.6 L193.5,410.4 L193.8,410.1 L193.9,409.9 L194.0,409.6" fill="none" stroke="#1c1c1c" stroke-width="1.6" />
<path d="M181.6,411 V422.4 L183,425.6 V428.2 L183.0,428.2 L183.0,428.4 L183.1,428.6 L183.3,428.7 L183.6,428.9 L183.9,429.1 L184.3,429.2 L184.7,429.3 L185.2,429.4 L185.7,429.5 L186.2,429.6 L186.7,429.6 L187.3,429.6 L187.9,429.6 L188.4,429.6 L188.9,429.5 L189.5,429.4 L189.9,429.3 L190.3,429.2 L190.7,429.1 L191.0,428.9 L191.3,428.7 L191.5,428.6 L191.6,428.4 L191.6,428.2 V425.6 L194,422.4 V411" fill="none" stroke="#1c1c1c" stroke-width="1" />
<path d="M181.4,422.4 L181.5,422.6 L181.6,422.9 L181.9,423.1 L182.2,423.3 L182.7,423.5 L183.2,423.7 L183.8,423.8 L184.5,424.0 L185.2,424.1 L186.0,424.1 L186.8,424.2 L187.6,424.2 L188.4,424.2 L189.2,424.1 L190.0,424.1 L190.7,424.0 L191.4,423.8 L192.0,423.7 L192.5,423.5 L193.0,423.3 L193.3,423.1 L193.6,422.9 L193.7,422.6 L193.8,422.4" fill="none" stroke="#1c1c1c" stroke-width="0.8" />
<path d="M184.4,429.6 V433.2 L184.4,433.2 L184.4,433.4 L184.5,433.5 L184.6,433.7 L184.8,433.8 L185.0,433.9 L185.2,434.0 L185.5,434.2 L185.8,434.2 L186.1,434.3 L186.4,434.4 L186.7,434.4 L187.1,434.4 L187.5,434.4 L187.8,434.4 L188.1,434.3 L188.4,434.2 L188.7,434.2 L189.0,434.0 L189.2,433.9 L189.4,433.8 L189.6,433.7 L189.7,433.5 L189.8,433.4 L189.8,433.2 V429.6 Z" fill="#333" stroke="#1c1c1c" stroke-width="0.8" />
<path d="M304.6,351.2 L303.2,351.2 L302.6,353.4 L303.7,354.2 L303.7,355.8 L302.5,356.5 L302.9,358.8 L304.3,358.9 L304.9,360.4 L304.1,361.6 L305.5,363.5 L306.9,363.0 L308.1,364.1 L307.9,365.6 L310.0,366.8 L311.1,365.7 L312.7,366.3 L313.1,367.9 L315.5,368.2 L316.2,366.7 L317.9,366.6 L318.8,368.0 L321.2,367.3 L321.3,365.7 L322.8,365.0 L324.1,365.9 L326.0,364.4 L325.5,362.9 L326.6,361.7 L328.0,362.0 L329.1,359.9 L328.1,358.9 L328.5,357.4 L329.9,357.0 L330.0,354.7 L328.7,354.2 L328.4,352.7 L329.4,351.7 L328.5,349.5 L327.0,349.7 L323.8,349.2 L308.2,349.2 Z" fill="#fff" stroke="#1c1c1c" stroke-width="1.1" />
<path d="M308.1,349.5 Q304.6,354.6 303.8,356.2" fill="none" stroke="#1c1c1c" stroke-width="1.0" />
<path d="M307.6,351.6 Q305.0,358.0 305.2,360.7" fill="none" stroke="#1c1c1c" stroke-width="1.0" />
<path d="M308.6,353.6 Q307.4,360.8 308.5,364.4" fill="none" stroke="#1c1c1c" stroke-width="1.0" />
<path d="M311.0,355.2 Q311.3,362.6 313.3,366.5" fill="none" stroke="#1c1c1c" stroke-width="1.0" />
<path d="M314.2,356.1 Q316.1,363.1 318.5,366.6" fill="none" stroke="#1c1c1c" stroke-width="1.0" />
<path d="M317.8,356.1 Q320.9,362.2 323.3,364.8" fill="none" stroke="#1c1c1c" stroke-width="1.0" />
<path d="M321.0,355.2 Q324.8,360.0 326.9,361.3" fill="none" stroke="#1c1c1c" stroke-width="1.0" />
<path d="M323.4,353.6 Q327.2,357.0 328.5,356.8" fill="none" stroke="#1c1c1c" stroke-width="1.0" />
<path d="M324.4,351.6 Q327.6,354.3 328.0,353.4" fill="none" stroke="#1c1c1c" stroke-width="1.0" />
<path d="M323.9,349.5 Q325.9,353.2 325.3,353.4" fill="none" stroke="#1c1c1c" stroke-width="1.0" />
<path d="M310.4,360.4 L310.9,364.8" fill="none" stroke="#333" stroke-width="1.5" />
<path d="M312.9,361.7 L314.6,365.9" fill="none" stroke="#333" stroke-width="1.5" />
<path d="M315.9,362.2 L318.5,365.8" fill="none" stroke="#333" stroke-width="1.5" />
<path d="M318.8,361.9 L322.1,364.5" fill="none" stroke="#333" stroke-width="1.5" />
<ellipse cx="316.0" cy="350.4" rx="7.7" ry="4.6" fill="#fff" stroke="#1c1c1c" stroke-width="1.2"/>
<ellipse cx="316.0" cy="350.4" rx="5.8" ry="3.4" fill="#fff" stroke="#1c1c1c" stroke-width="1.0"/>
<ellipse cx="316.4" cy="375.3" rx="5.0" ry="3.5" fill="#fff" stroke="#1c1c1c" stroke-width="1.4"/>
<ellipse cx="316.5" cy="374.7" rx="3.0" ry="1.7" fill="#fff" stroke="#1c1c1c" stroke-width="1.3"/>
<path d="M311.4,385 L313.6,383 L319.4,382.8 L321.7,384.8 V388 L319.6,389.8 L313.6,389.9 L311.4,388 Z" fill="#fff" stroke="#1c1c1c" stroke-width="1.4" />
<path d="M311.4,385 L313.8,386.6 L319.4,386.6 L321.7,384.8 M313.8,386.6 V389.8 M319.4,386.6 V389.8" fill="none" stroke="#1c1c1c" stroke-width="1.1" />
<ellipse cx="316.6" cy="384.7" rx="2.5" ry="1.1" fill="none" stroke="#1c1c1c" stroke-width="1.0"/>
<rect x="337" y="342.3" width="4.8" height="20.3" rx="2.3" fill="#fff" stroke="#222" stroke-width="1.1"/>
<ellipse cx="363.4" cy="382.9" rx="7.2" ry="11.2" transform="rotate(-29.0 363.4 382.9)" fill="#fff" stroke="#1c1c1c" stroke-width="1.2" />
<ellipse cx="361.0" cy="384.4" rx="7.2" ry="11.2" transform="rotate(-29.0 361.0 384.4)" fill="#fff" stroke="#1c1c1c" stroke-width="1.6" />
<path d="M360.1,374.7 L359.4,374.6 L358.7,374.6 L358.0,374.6 L357.4,374.8 L356.8,375.0 L356.2,375.3 L355.7,375.8 L355.3,376.3 L354.9,376.9 L354.6,377.5 L354.4,378.2 L354.2,379.0 L354.1,379.8 L354.1,380.7 L354.2,381.6 L354.3,382.6 L354.5,383.5 L354.8,384.4 L355.2,385.4 L355.6,386.3 L356.1,387.2 L356.6,388.1 L357.2,388.9 L357.8,389.7 L358.5,390.4 L359.2,391.1 L359.9,391.7 L360.6,392.2 L361.4,392.6 L362.1,393.0 L362.9,393.2 L363.6,393.4 L364.3,393.4 L365.0,393.4 L365.6,393.3 L366.2,393.1 L366.8,392.8 L367.3,392.4 L367.8,391.9 L368.2,391.3" fill="none" stroke="#333" stroke-width="2.2" />
<ellipse cx="362.3" cy="383.6" rx="5.6" ry="9.0" transform="rotate(-29.0 362.3 383.6)" fill="#fff" stroke="#1c1c1c" stroke-width="1.0" />
<path d="M395.5,389.9 L396.3,390.8 L397.3,390.2 L396.8,389.0 L397.6,388.3 L398.6,388.9 L399.3,388.1 L398.7,386.9 L399.3,386.0 L400.4,386.5 L400.9,385.4 L400.1,384.3 L400.5,383.2 L401.6,383.5 L402.0,382.2 L401.0,381.3 L401.2,380.0 L402.3,380.0 L402.4,378.6 L401.3,377.8 L401.3,376.5 L402.4,376.2 L402.2,374.7 L401.1,374.2 L400.9,372.7 L401.8,372.2 L401.5,370.7 L400.3,370.3 L399.8,368.9 L400.7,368.2 L400.1,366.7 L398.9,366.5 L398.3,365.1 L399.0,364.2 L398.2,362.7 L397.1,362.8 L396.3,361.5 L396.8,360.4 L395.9,359.1 L394.8,359.4 L393.9,358.1 L394.3,357.0 L393.2,355.8 L392.2,356.3 L391.2,355.2 L391.4,354.0 L390.2,353.0 L389.4,353.7 L388.2,352.9 L388.2,351.6 L387.0,350.8 L386.3,351.7 L385.2,351.1 L384.9,349.8 L383.7,349.3 L383.2,350.3 L382.1,349.9 L381.7,348.7 L380.4,348.5 L380.2,349.6 L379.1,349.5 L378.5,348.3 L377.3,348.4 L377.3,349.6 L376.3,349.7 L375.5,348.7 L374.5,349.0 L374.7,350.3 L373.7,350.7 L372.9,349.8 L371.9,350.4 L372.4,351.6 L371.6,352.3 L370.6,351.7 L369.9,352.5 L370.5,353.7 L369.9,354.6 L368.8,354.1 L368.3,355.2 L369.1,356.3 L368.7,357.4 L367.6,357.1 L367.2,358.4 L368.2,359.3 L368.0,360.6 L366.9,360.6 L366.8,362.0 L367.9,362.8 L367.9,364.1 L366.8,364.4 L367.0,365.9 L368.1,366.4 L368.3,367.9 L367.4,368.4 L367.7,369.9 L368.9,370.3 L369.4,371.7 L368.5,372.4 L369.1,373.9 L370.3,374.1 L370.9,375.5 L370.2,376.4 L371.0,377.9 L372.1,377.8 L372.9,379.1 L372.4,380.2 L373.3,381.5 L374.4,381.2 L375.3,382.5 L374.9,383.6 L376.0,384.8 L377.0,384.3 L378.0,385.4 L377.8,386.6 L379.0,387.6 L379.8,386.9 L381.0,387.7 L381.0,389.0 L382.2,389.8 L382.9,388.9 L384.0,389.5 L384.3,390.8 L385.5,391.3 L386.0,390.3 L387.1,390.7 L387.5,391.9 L388.8,392.1 L389.0,391.0 L390.1,391.1 L390.7,392.3 L391.9,392.2 L391.9,391.0 L392.9,390.9 L393.7,391.9 L394.7,391.6 L394.5,390.3 L395.5,389.9 L396.3,390.8 L397.3,390.2 L396.8,389.0 Z" fill="#fff" stroke="#1c1c1c" stroke-width="1.1" />
<path d="M389.4,375.9 Q393.9,382.5 395.7,390.2" fill="none" stroke="#262626" stroke-width="1.15" />
<path d="M389.3,374.5 Q394.9,380.5 398.1,388.3" fill="none" stroke="#262626" stroke-width="1.15" />
<path d="M389.0,373.0 Q395.5,378.0 400.0,385.6" fill="none" stroke="#262626" stroke-width="1.15" />
<path d="M388.4,371.4 Q395.6,375.3 401.2,382.2" fill="none" stroke="#262626" stroke-width="1.15" />
<path d="M387.7,369.8 Q395.1,372.3 401.6,378.3" fill="none" stroke="#262626" stroke-width="1.15" />
<path d="M386.8,368.3 Q394.2,369.3 401.3,374.1" fill="none" stroke="#262626" stroke-width="1.15" />
<path d="M385.8,367.0 Q392.9,366.4 400.3,369.6" fill="none" stroke="#262626" stroke-width="1.15" />
<path d="M384.7,365.8 Q391.2,363.6 398.6,365.2" fill="none" stroke="#262626" stroke-width="1.15" />
<path d="M383.5,364.9 Q389.2,361.2 396.3,361.1" fill="none" stroke="#262626" stroke-width="1.15" />
<path d="M382.4,364.3 Q386.9,359.2 393.5,357.3" fill="none" stroke="#262626" stroke-width="1.15" />
<path d="M381.3,364.0 Q384.5,357.7 390.3,354.1" fill="none" stroke="#262626" stroke-width="1.15" />
<path d="M380.4,364.0 Q382.2,356.8 386.8,351.6" fill="none" stroke="#262626" stroke-width="1.15" />
<path d="M379.6,364.4 Q379.9,356.5 383.3,349.9" fill="none" stroke="#262626" stroke-width="1.15" />
<path d="M379.0,365.1 Q377.8,356.9 379.8,349.2" fill="none" stroke="#262626" stroke-width="1.55" />
<path d="M378.6,366.1 Q376.0,357.8 376.5,349.3" fill="none" stroke="#262626" stroke-width="1.55" />
<path d="M378.4,367.3 Q374.5,359.3 373.5,350.4" fill="none" stroke="#262626" stroke-width="1.55" />
<path d="M378.5,368.7 Q373.5,361.3 371.1,352.3" fill="none" stroke="#262626" stroke-width="1.55" />
<path d="M378.8,370.2 Q372.9,363.8 369.2,355.0" fill="none" stroke="#262626" stroke-width="1.55" />
<path d="M379.4,371.8 Q372.8,366.5 368.0,358.4" fill="none" stroke="#262626" stroke-width="1.55" />
<path d="M380.1,373.4 Q373.3,369.5 367.6,362.3" fill="none" stroke="#262626" stroke-width="1.55" />
<path d="M381.0,374.9 Q374.2,372.5 367.9,366.5" fill="none" stroke="#262626" stroke-width="1.55" />
<path d="M382.0,376.2 Q375.5,375.4 368.9,371.0" fill="none" stroke="#262626" stroke-width="1.55" />
<path d="M383.1,377.4 Q377.2,378.2 370.6,375.4" fill="none" stroke="#262626" stroke-width="1.55" />
<path d="M384.3,378.3 Q379.2,380.6 372.9,379.5" fill="none" stroke="#262626" stroke-width="1.55" />
<path d="M385.4,378.9 Q381.5,382.6 375.7,383.3" fill="none" stroke="#262626" stroke-width="1.55" />
<path d="M386.5,379.2 Q383.9,384.1 378.9,386.5" fill="none" stroke="#262626" stroke-width="1.55" />
<path d="M387.4,379.2 Q386.2,385.0 382.4,389.0" fill="none" stroke="#262626" stroke-width="1.55" />
<path d="M388.2,378.8 Q388.5,385.3 385.9,390.7" fill="none" stroke="#262626" stroke-width="1.55" />
<path d="M388.8,378.1 Q390.6,384.9 389.4,391.4" fill="none" stroke="#262626" stroke-width="1.15" />
<path d="M389.2,377.1 Q392.4,384.0 392.7,391.3" fill="none" stroke="#262626" stroke-width="1.15" />
<ellipse cx="383.9" cy="371.6" rx="3.7" ry="7.8" transform="rotate(-29.0 383.9 371.6)" fill="#fff" stroke="#1c1c1c" stroke-width="1.2" />
<path d="M381.6,351.6 L380.5,351.4 L379.4,351.3 L378.3,351.3 L377.2,351.5 L376.2,351.7 L375.3,352.1 L374.4,352.5 L373.5,353.1 L372.8,353.8 L372.1,354.6 L371.5,355.5 L370.9,356.5 L370.5,357.5 L370.1,358.7 L369.8,359.9 L369.7,361.2 L369.6,362.5 L369.6,363.9 L369.7,365.3 L369.9,366.8 L370.1,368.2 L370.5,369.7 L371.0,371.2 L371.5,372.7 L372.1,374.2 L372.8,375.6 L373.6,377.0 L374.4,378.4 L375.3,379.7 L376.3,381.0 L377.3,382.2 L378.3,383.3 L379.4,384.4 L380.6,385.3 L381.7,386.2 L382.9,386.9 L384.0,387.6 L385.2,388.2 L386.4,388.6 L387.6,389.0" fill="none" stroke="#333" stroke-width="1.0" />
<path d="M327.0,387.7 L343.3,380.6 L346.6,380.9 L347.2,384 L348.9,387.4 L352.7,388.4 L354.4,390.1 L354,394.8 L353.6,398.2 L356.1,399.1 L357,400.8 L355.3,403.4 L351.8,404.7 L339.8,410.9 L339.8,410.9 L339.3,411.2 L338.7,411.4 L338.0,411.5 L337.4,411.6 L336.7,411.5 L336.0,411.4 L335.2,411.2 L334.5,411.0 L333.8,410.7 L333.0,410.3 L332.3,409.8 L331.5,409.3 L330.8,408.7 L330.1,408.0 L329.4,407.3 L328.7,406.6 L328.1,405.8 L327.5,405.0 L326.9,404.1 L326.4,403.2 L325.9,402.3 L325.5,401.3 L325.1,400.4 L324.8,399.4 L324.5,398.4 L324.2,397.5 L324.1,396.5 L323.9,395.6 L323.9,394.7 L323.9,393.8 L324.0,393.0 L324.1,392.2 L324.2,391.4 L324.5,390.7 L324.8,390.0 L325.1,389.4 L325.5,388.9 L325.9,388.4 L326.4,388.0 L327.0,387.7 Z" fill="#fff" stroke="#1c1c1c" stroke-width="1.1" />
<path d="M344.1,408.5 L344.6,408.1 L345.0,407.7 L345.3,407.2 L345.7,406.6 L346.0,406.0 L346.2,405.3 L346.4,404.6 L346.5,403.9 L346.6,403.1 L346.6,402.3 L346.6,401.4 L346.5,400.6 L346.3,399.7 L346.2,398.8 L345.9,397.9 L345.6,397.0 L345.3,396.0 L344.9,395.1 L344.5,394.3 L344.1,393.4 L343.6,392.5 L343.0,391.7 L342.5,390.9 L341.9,390.2 L341.3,389.4 L340.6,388.8 L339.9,388.1 L339.3,387.5 L338.6,387.0 L337.9,386.5 L337.2,386.1 L336.5,385.8 L335.8,385.5 L335.1,385.3 L334.4,385.1 L333.7,385.0 L333.1,385.0 L332.4,385.0 L331.8,385.2 L331.3,385.3" fill="none" stroke="#1c1c1c" stroke-width="1.0" />
<path d="M346.2,407.4 L346.7,407.0 L347.1,406.5 L347.4,406.0 L347.8,405.4 L348.1,404.8 L348.3,404.2 L348.5,403.4 L348.6,402.7 L348.7,401.9 L348.7,401.1 L348.7,400.3 L348.6,399.4 L348.4,398.5 L348.3,397.6 L348.0,396.7 L347.7,395.8 L347.4,394.9 L347.0,394.0 L346.6,393.1 L346.2,392.2 L345.7,391.4 L345.1,390.5 L344.6,389.8 L344.0,389.0 L343.4,388.3 L342.7,387.6 L342.0,387.0 L341.4,386.4 L340.7,385.9 L340.0,385.4 L339.3,385.0 L338.6,384.6 L337.9,384.3 L337.2,384.1 L336.5,384.0 L335.8,383.9 L335.2,383.8 L334.5,383.9 L333.9,384.0 L333.4,384.2" fill="none" stroke="#1c1c1c" stroke-width="1.0" />
<path d="M350.8,402.8 L350.9,402.3 L351.0,401.8 L351.1,401.3 L351.2,400.7 L351.2,400.2 L351.2,399.6 L351.2,399.0 L351.2,398.4 L351.1,397.8 L351.0,397.2 L350.9,396.5 L350.7,395.9 L350.6,395.2 L350.4,394.6 L350.1,394.0 L349.9,393.3 L349.6,392.7 L349.3,392.1 L349.0,391.4 L348.7,390.8 L348.4,390.2 L348.0,389.6 L347.6,389.0 L347.2,388.5 L346.8,387.9 L346.4,387.4 L345.9,386.9 L345.5,386.4 L345.0,386.0 L344.5,385.5 L344.1,385.1 L343.6,384.7 L343.1,384.4 L342.6,384.0 L342.1,383.7 L341.6,383.5 L341.1,383.2 L340.6,383.0 L340.1,382.8 L339.6,382.7" fill="none" stroke="#444" stroke-width="0.8" />
<ellipse cx="333.4" cy="399.3" rx="8.0" ry="13.3" transform="rotate(-29.0 333.4 399.3)" fill="#fff" stroke="#1c1c1c" stroke-width="1.1" />
<ellipse cx="332.6" cy="399.8" rx="7.2" ry="12.0" transform="rotate(-29.0 332.6 399.8)" fill="#c4c4c4" stroke="#1c1c1c" stroke-width="0.1" />
<path d="M338.5,411.4 L341.0,407.0 L336.6,404.0 L335.5,406.1 Z" fill="#fff" stroke="#1c1c1c" stroke-width="1.2" />
<path d="M341.0,407.0 L342.6,406.1 M338.5,411.4 L340.1,410.5" fill="none" stroke="#1c1c1c" stroke-width="1.0" />
<path d="M340.8,402.0 L337.8,395.0 L335.1,397.7 L336.5,400.9 Z" fill="#fff" stroke="#1c1c1c" stroke-width="1.2" />
<path d="M337.8,395.0 L339.4,394.1 M340.8,402.0 L342.4,401.1" fill="none" stroke="#1c1c1c" stroke-width="1.0" />
<path d="M334.1,390.8 L328.7,388.2 L330.3,393.9 L332.9,395.1 Z" fill="#fff" stroke="#1c1c1c" stroke-width="1.2" />
<path d="M328.7,388.2 L330.3,387.3 M334.1,390.8 L335.7,389.9" fill="none" stroke="#1c1c1c" stroke-width="1.0" />
<path d="M325.1,389.0 L322.6,393.4 L327.0,396.4 L328.1,394.3 Z" fill="#fff" stroke="#1c1c1c" stroke-width="1.2" />
<path d="M322.6,393.4 L324.2,392.5 M325.1,389.0 L326.7,388.1" fill="none" stroke="#1c1c1c" stroke-width="1.0" />
<path d="M322.8,398.4 L325.8,405.4 L328.5,402.7 L327.1,399.5 Z" fill="#fff" stroke="#1c1c1c" stroke-width="1.2" />
<path d="M325.8,405.4 L327.4,404.5 M322.8,398.4 L324.4,397.5" fill="none" stroke="#1c1c1c" stroke-width="1.0" />
<path d="M329.5,409.6 L334.9,412.2 L333.3,406.5 L330.7,405.3 Z" fill="#fff" stroke="#1c1c1c" stroke-width="1.2" />
<path d="M334.9,412.2 L336.5,411.3 M329.5,409.6 L331.1,408.7" fill="none" stroke="#1c1c1c" stroke-width="1.0" />
<ellipse cx="332.8" cy="399.7" rx="3.2" ry="5.2" transform="rotate(-29.0 332.8 399.7)" fill="#555" stroke="#1c1c1c" stroke-width="1.0" />
<path d="M329.9,396.4 l2.4,-1.3" fill="none" stroke="#ddd" stroke-width="0.8" />
<path d="M329.7,398.8 l2.4,-1.3" fill="none" stroke="#ddd" stroke-width="0.8" />
<path d="M330.9,401.6 l2.4,-1.3" fill="none" stroke="#ddd" stroke-width="0.8" />
<path d="M333.0,403.6 l2.4,-1.3" fill="none" stroke="#ddd" stroke-width="0.8" />
<path d="M249.6,462.7 L249.4,465.0 L250.9,465.7 L251.6,463.9 L252.9,464.5 L253.3,466.7 L254.7,467.1 L255.0,465.0 L256.2,465.2 L257.0,467.3 L258.4,467.3 L258.2,465.1 L259.3,464.9 L260.5,466.8 L261.6,466.3 L260.9,464.2 L261.9,463.6 L263.4,465.2 L264.3,464.3 L263.2,462.3 L263.9,461.4 L265.6,462.5 L266.3,461.3 L264.8,459.6 L265.2,458.3 L267.1,459.0 L267.4,457.5 L265.6,456.1 L265.7,454.7 L267.6,454.8 L267.6,453.1 L265.6,452.2 L265.4,450.6 L267.2,450.2 L266.8,448.4 L264.8,448.0 L264.3,446.4 L265.9,445.5 L265.2,443.7 L263.2,443.8 L262.5,442.2 L263.8,440.8 L262.8,439.2 L261.0,439.8 L260.0,438.4 L261.0,436.6 L259.8,435.1 L258.2,436.2 L257.1,435.0 L257.7,433.0 L256.3,431.8 L255.1,433.3 L253.8,432.5 L254.0,430.2 L252.5,429.5 L251.8,431.3 L250.5,430.7 L250.1,428.5 L248.7,428.1 L248.4,430.2 L247.2,430.0 L246.4,427.9 L245.0,427.9 L245.2,430.1 L244.1,430.3 L242.9,428.4 L241.8,428.9 L242.5,431.0 L241.5,431.6 L240.0,430.0 L239.1,430.9 L240.2,432.9" fill="#fff" stroke="#1c1c1c" stroke-width="1.0" />
<path d="M259.1,465.6 L260.5,467.3 L261.5,466.5 L260.6,464.5 L261.4,463.7 L263.1,465.0 L263.9,463.8 L262.5,462.0 L263.0,460.9 L264.9,461.7 L265.3,460.3 L263.6,458.8 L263.9,457.4 L265.8,457.7 L265.9,456.0 L264.0,454.9 L263.9,453.4 L265.8,453.2 L265.5,451.3 L263.5,450.7 L263.1,449.1 L264.8,448.4 L264.3,446.5 L262.2,446.4 L261.5,444.8 L263.0,443.6 L262.1,441.8 L260.2,442.2 L259.3,440.7 L260.4,439.1 L259.3,437.5 L257.6,438.4 L256.5,437.1 L257.2,435.2 L255.9,433.9 L254.5,435.2 L253.3,434.2 L253.5,432.0 L252.1,431.1 L251.2,432.8 L249.8,432.1 L249.7,429.9 L248.2,429.3 L247.7,431.3 L246.4,431.0 L245.8,428.8 L244.4,428.7 L244.4,430.8 L243.2,430.9 L242.1,428.9 L240.8,429.2 L241.4,431.3 L240.3,431.8 L238.9,430.1 L237.9,430.9 L238.8,432.9 L238.0,433.7 L236.3,432.4 L235.5,433.6 L236.9,435.4 L236.4,436.5 L234.5,435.7 L234.1,437.1 L235.8,438.6 L235.5,440.0 L233.6,439.7 L233.5,441.4 L235.4,442.5 L235.5,444.0 L233.6,444.2 L233.9,446.1 L235.9,446.7 L236.3,448.3 L234.6,449.0 L235.1,450.9 L237.2,451.0 L237.9,452.6 L236.4,453.8 L237.3,455.6 L239.2,455.2 L240.1,456.7 L239.0,458.3 L240.1,459.9 L241.8,459.0 L242.9,460.3 L242.2,462.2 L243.5,463.5 L244.9,462.2 L246.1,463.2 L245.9,465.4 L247.3,466.3 L248.2,464.6 L249.6,465.3 L249.7,467.5 L251.2,468.1 L251.7,466.1 L253.0,466.4 L253.6,468.6 L255.0,468.7 L255.0,466.6 L256.2,466.5 L257.3,468.5 L258.6,468.2 L258.0,466.1 Z" fill="#fff" stroke="#1c1c1c" stroke-width="1.1" />
<ellipse cx="249.6" cy="448.8" rx="11.6" ry="18.4" transform="rotate(-29.0 249.6 448.8)" fill="#fff" stroke="#1c1c1c" stroke-width="0.9" />
<ellipse cx="247.4" cy="449.6" rx="9.8" ry="14.2" transform="rotate(-29.0 247.4 449.6)" fill="#fff" stroke="#1c1c1c" stroke-width="1.2" />
<ellipse cx="246.8" cy="449.9" rx="8.2" ry="12.2" transform="rotate(-29.0 246.8 449.9)" fill="#fff" stroke="#1c1c1c" stroke-width="1.0" />
<path d="M233.8,446.2 L240.0,442.8 L240.0,442.8 L240.5,442.6 L241.0,442.4 L241.5,442.3 L242.0,442.2 L242.6,442.2 L243.1,442.2 L243.7,442.3 L244.3,442.5 L244.8,442.7 L245.4,443.0 L246.0,443.3 L246.6,443.6 L247.1,444.0 L247.7,444.5 L248.2,445.0 L248.7,445.5 L249.1,446.0 L249.6,446.6 L250.0,447.3 L250.4,447.9 L250.7,448.6 L251.0,449.2 L251.3,449.9 L251.5,450.6 L251.7,451.3 L251.8,452.0 L251.9,452.7 L252.0,453.4 L252.0,454.1 L251.9,454.7 L251.9,455.3 L251.7,455.9 L251.5,456.5 L251.3,457.1 L251.1,457.6 L250.8,458.0 L250.4,458.4 L250.1,458.8 L249.6,459.1 L249.2,459.4 L243.0,462.8 Z" fill="#fff" stroke="#1c1c1c" stroke-width="1.1" />
<ellipse cx="238.4" cy="454.5" rx="6.6" ry="9.5" transform="rotate(-29.0 238.4 454.5)" fill="#fff" stroke="#1c1c1c" stroke-width="1.2" />
<ellipse cx="240.4" cy="453.6" rx="4.0" ry="6.8" transform="rotate(-29.0 240.4 453.6)" fill="#fff" stroke="#1c1c1c" stroke-width="1.0" />
<path d="M237.8,448.8 l3.2,-1.2" fill="none" stroke="#333" stroke-width="0.8" />
<path d="M239.3,449.6 l3.2,-1.2" fill="none" stroke="#333" stroke-width="0.8" />
<path d="M240.7,451.0 l3.2,-1.2" fill="none" stroke="#333" stroke-width="0.8" />
<path d="M241.9,452.8 l3.2,-1.2" fill="none" stroke="#333" stroke-width="0.8" />
<path d="M242.5,454.7 l3.2,-1.2" fill="none" stroke="#333" stroke-width="0.8" />
<path d="M242.7,456.6 l3.2,-1.2" fill="none" stroke="#333" stroke-width="0.8" />
<path d="M241.9,463.2 L242.0,463.2 L242.1,463.2 L242.1,463.2 L242.2,463.2 L242.2,463.1 L242.3,463.1 L242.4,463.1 L242.4,463.1 L242.5,463.1 L242.5,463.0 L242.6,463.0 L242.7,463.0 L242.7,463.0 L242.8,462.9 L242.8,462.9 L242.9,462.9 L242.9,462.8 L243.0,462.8 L243.1,462.8 L243.1,462.8 L243.2,462.7 L243.2,462.7 L243.3,462.7 L243.3,462.6 L243.4,462.6 L243.4,462.5 L243.5,462.5 L243.5,462.5 L243.6,462.4 L243.6,462.4 L243.7,462.4 L243.7,462.3 L243.8,462.3 L243.8,462.2 L243.9,462.2 L243.9,462.1 L244.0,462.1 L244.0,462.1 L244.1,462.0 L244.1,462.0" fill="none" stroke="#1c1c1c" stroke-width="2.0" />
<path d="M235.1,445.7 L235.0,445.7 L235.0,445.7 L234.9,445.8 L234.8,445.8 L234.8,445.8 L234.7,445.8 L234.7,445.8 L234.6,445.8 L234.5,445.9 L234.5,445.9 L234.4,445.9 L234.4,445.9 L234.3,446.0 L234.2,446.0 L234.2,446.0 L234.1,446.0 L234.1,446.1 L234.0,446.1 L234.0,446.1 L233.9,446.1 L233.8,446.2 L233.8,446.2 L233.7,446.2 L233.7,446.3 L233.6,446.3 L233.6,446.3 L233.5,446.4 L233.5,446.4 L233.4,446.4 L233.4,446.5 L233.3,446.5 L233.3,446.5 L233.2,446.6 L233.2,446.6 L233.1,446.7 L233.1,446.7 L233.0,446.7 L233.0,446.8 L232.9,446.8 L232.9,446.9" fill="none" stroke="#1c1c1c" stroke-width="1.8" />
<path d="M294.2,422.7 L304.2,417.1" fill="none" stroke="#222" stroke-width="3.3" stroke-linecap="butt"/>
<path d="M294.2,422.7 L304.2,417.1" fill="none" stroke="#999" stroke-width="2.2" stroke-dasharray="0.45 1.2" stroke-linecap="butt"/>
<circle cx="307.4" cy="415.5" r="1.9" fill="#fff" stroke="#222" stroke-width="1.1"/>
<circle cx="292" cy="424.2" r="2.0" fill="#fff" stroke="#222" stroke-width="1.1"/>
<path d="M285.4,424.2 L287.4,425.4" fill="none" stroke="#222" stroke-width="2.4" />
<path d="M286.6,431.2 L289.8,428.8 L290.6,426.6" fill="none" stroke="#1c1c1c" stroke-width="0.9" />
<path d="M265.2,436.0 L279.2,428.2 M267.6,441.4 L279.6,434.8" fill="none" stroke="#1c1c1c" stroke-width="1.1" />
<ellipse cx="265.8" cy="439.2" rx="1.9" ry="2.9" transform="rotate(-29.0 265.8 439.2)" fill="#fff" stroke="#1c1c1c" stroke-width="1.0" />
<circle cx="271.4" cy="432.8" r="0.6" fill="#222"/>
<circle cx="271.3" cy="445" r="1.7" fill="#fff" stroke="#222" stroke-width="1.0"/>
<ellipse cx="221.6" cy="465.0" rx="12.4" ry="20.0" transform="rotate(-29.0 221.6 465.0)" fill="#fff" stroke="#1c1c1c" stroke-width="1" />
<ellipse cx="221.6" cy="465.0" rx="9.8" ry="15.0" transform="rotate(-29.0 221.6 465.0)" fill="#fff" stroke="#1c1c1c" stroke-width="1" />
<ellipse cx="204.6" cy="474.2" rx="12.6" ry="19.6" transform="rotate(-29.0 204.6 474.2)" fill="#fff" stroke="#1c1c1c" stroke-width="1.1" />
<ellipse cx="201.6" cy="475.9" rx="12.6" ry="19.6" transform="rotate(-29.0 201.6 475.9)" fill="#fff" stroke="#1c1c1c" stroke-width="1.1" />
<ellipse cx="202.2" cy="475.6" rx="10.6" ry="17.4" transform="rotate(-29.0 202.2 475.6)" fill="#fff" stroke="#1c1c1c" stroke-width="0.9" />
<path d="M200.0,461.4 L199.7,461.3 L199.4,461.3 L199.1,461.2 L198.8,461.1 L198.5,461.1 L198.2,461.1 L197.9,461.1 L197.7,461.1 L197.4,461.1 L197.1,461.1 L196.9,461.1 L196.6,461.2 L196.3,461.2 L196.1,461.3 L195.8,461.4 L195.6,461.5 L195.4,461.6 L195.1,461.7 L194.9,461.8 L194.7,462.0 L194.5,462.1 L194.3,462.3 L194.1,462.4 L193.9,462.6 L193.7,462.8 L193.5,463.0 L193.4,463.2 L193.2,463.4 L193.1,463.6 L192.9,463.9 L192.8,464.1 L192.6,464.4 L192.5,464.6 L192.4,464.9 L192.3,465.2 L192.2,465.5 L192.1,465.8 L192.0,466.1 L192.0,466.4 L191.9,466.7" fill="none" stroke="#333" stroke-width="2.2" />
<path d="M208.4,489.7 L208.6,489.6 L208.9,489.5 L209.2,489.5 L209.4,489.4 L209.7,489.3 L209.9,489.2 L210.1,489.1 L210.4,488.9 L210.6,488.8 L210.8,488.6 L211.0,488.5 L211.2,488.3 L211.4,488.1 L211.6,487.9 L211.8,487.7 L211.9,487.5 L212.1,487.2 L212.2,487.0 L212.4,486.8 L212.5,486.5 L212.7,486.2 L212.8,485.9 L212.9,485.7 L213.0,485.4 L213.1,485.1 L213.2,484.7 L213.2,484.4 L213.3,484.1 L213.4,483.8 L213.4,483.4 L213.5,483.1 L213.5,482.7 L213.5,482.3 L213.5,482.0 L213.5,481.6 L213.5,481.2 L213.5,480.8 L213.5,480.4 L213.4,480.0 L213.4,479.7" fill="none" stroke="#333" stroke-width="2.4" />
<ellipse cx="203.2" cy="475.3" rx="7.2" ry="13.2" transform="rotate(-29.0 203.2 475.3)" fill="#fff" stroke="#1c1c1c" stroke-width="1.0" />
<path d="M197.0,463.9 L196.7,464.3 L196.4,464.7 L196.2,465.1 L196.0,465.6 L195.8,466.1 L195.7,466.6 L195.6,467.2 L195.5,467.8 L195.4,468.4 L195.4,469.0 L195.4,469.7 L195.5,470.3 L195.6,471.0 L195.7,471.7 L195.9,472.5 L196.0,473.2 L196.3,473.9 L196.5,474.7 L196.8,475.4 L197.1,476.1 L197.4,476.9 L197.8,477.6 L198.2,478.3 L198.6,479.0 L199.0,479.7 L199.4,480.3 L199.9,481.0 L200.4,481.6 L200.9,482.2 L201.4,482.7 L201.9,483.3 L202.5,483.8 L203.0,484.2 L203.5,484.7 L204.1,485.1 L204.6,485.4 L205.2,485.7 L205.7,486.0 L206.3,486.3 L206.8,486.4" fill="none" stroke="#1c1c1c" stroke-width="0.8" />
<path d="M188.6,470.6 L190.4,473.6 M191.6,463.4 L189.2,466" fill="none" stroke="#1c1c1c" stroke-width="1.0" />
<path d="M208.6,490.8 L211.6,487.4 M204.4,493.8 L207.8,494.4" fill="none" stroke="#1c1c1c" stroke-width="1.2" />
<path d="M156.6,474.9 L169.3,467.8 L169.3,467.8 L170.3,467.3 L171.5,467.0 L172.6,466.7 L173.9,466.6 L175.2,466.7 L176.5,466.9 L177.9,467.2 L179.2,467.6 L180.6,468.2 L182.0,468.9 L183.4,469.8 L184.7,470.7 L186.1,471.8 L187.4,473.0 L188.7,474.3 L189.9,475.7 L191.1,477.1 L192.2,478.6 L193.2,480.2 L194.2,481.9 L195.1,483.6 L195.9,485.3 L196.6,487.1 L197.2,488.8 L197.7,490.6 L198.1,492.4 L198.4,494.1 L198.6,495.8 L198.7,497.5 L198.7,499.1 L198.6,500.7 L198.4,502.2 L198.0,503.6 L197.6,504.9 L197.0,506.1 L196.4,507.2 L195.6,508.2 L194.8,509.1 L193.9,509.9 L192.9,510.5 L180.2,517.5 Z" fill="#fff" stroke="#1c1c1c" stroke-width="1.1" />
<ellipse cx="168.4" cy="496.2" rx="15.0" ry="24.4" transform="rotate(-29.0 168.4 496.2)" fill="#fff" stroke="#1c1c1c" stroke-width="1.1" />
<path d="M166.0,475.1 L165.0,474.9 L164.1,474.8 L163.2,474.7 L162.3,474.7 L161.4,474.8 L160.5,475.0 L159.7,475.2 L159.0,475.5 L158.2,475.9 L157.6,476.4 L156.9,477.0 L156.3,477.6 L155.8,478.2 L155.3,479.0 L154.8,479.8 L154.5,480.7 L154.1,481.6 L153.9,482.6 L153.6,483.6 L153.5,484.7 L153.4,485.8 L153.4,486.9 L153.4,488.1 L153.5,489.3 L153.6,490.5 L153.8,491.8 L154.1,493.1 L154.4,494.3 L154.8,495.6 L155.2,496.9 L155.7,498.2 L156.3,499.5 L156.9,500.7 L157.5,501.9 L158.2,503.2 L158.9,504.3 L159.7,505.5 L160.5,506.6 L161.3,507.7 L162.2,508.7" fill="none" stroke="#1c1c1c" stroke-width="0.9" />
<path d="M170.0,515.6 L170.7,515.9 L171.4,516.2 L172.1,516.5 L172.8,516.7 L173.5,516.8 L174.2,517.0 L174.9,517.0 L175.6,517.1 L176.2,517.1 L176.8,517.1 L177.5,517.0 L178.1,516.9 L178.7,516.7 L179.3,516.5 L179.8,516.3 L180.4,516.0 L180.9,515.7 L181.4,515.4 L181.8,515.0 L182.3,514.5 L182.7,514.1 L183.1,513.6 L183.5,513.1 L183.8,512.5 L184.1,511.9 L184.4,511.3 L184.7,510.7 L184.9,510.0 L185.1,509.3 L185.3,508.5 L185.4,507.8 L185.5,507.0 L185.6,506.2 L185.6,505.4 L185.6,504.6 L185.6,503.7 L185.6,502.8 L185.5,502.0 L185.4,501.1 L185.2,500.2" fill="none" stroke="#1c1c1c" stroke-width="0.9" />
<ellipse cx="170.2" cy="495.2" rx="11.4" ry="20.4" transform="rotate(-29.0 170.2 495.2)" fill="#fff" stroke="#1c1c1c" stroke-width="1.1" />
<path d="M161.7,478.1 L161.1,478.9 L160.6,479.8 L160.1,480.8 L159.8,481.9 L159.6,483.1 L159.4,484.4 L159.4,485.8 L159.5,487.2 L159.7,488.7 L159.9,490.2 L160.3,491.8 L160.8,493.4 L161.4,495.0 L162.1,496.6 L162.8,498.1 L163.7,499.6 L164.6,501.1 L165.5,502.5 L166.6,503.9 L167.6,505.1 L168.7,506.3 L169.9,507.4 L171.1,508.4 L172.2,509.2 L173.4,510.0 L174.6,510.6 L175.7,511.0 L176.9,511.4 L178.0,511.6 L179.0,511.6 L180.0,511.5 L181.0,511.3 L181.9,510.9 L182.7,510.4 L183.4,509.8 L184.0,509.0 L184.6,508.2 L185.0,507.2 L185.4,506.1 L185.6,504.9" fill="none" stroke="#1c1c1c" stroke-width="0.9" />
<path d="M164.7,478.2 L164.3,479.0 L163.9,479.8 L163.6,480.8 L163.4,481.8 L163.3,482.9 L163.2,484.1 L163.3,485.3 L163.4,486.5 L163.6,487.8 L163.9,489.2 L164.2,490.5 L164.7,491.9 L165.2,493.3 L165.8,494.7 L166.4,496.0 L167.2,497.3 L167.9,498.6 L168.8,499.9 L169.6,501.1 L170.5,502.2 L171.5,503.3 L172.4,504.3 L173.4,505.2 L174.4,506.0 L175.4,506.8 L176.4,507.4 L177.4,507.9 L178.4,508.4 L179.4,508.7 L180.3,508.9 L181.2,509.0 L182.1,509.0 L182.9,508.8 L183.7,508.6 L184.4,508.2 L185.1,507.7 L185.6,507.2 L186.1,506.5 L186.6,505.7 L186.9,504.9" fill="none" stroke="#1c1c1c" stroke-width="0.9" />
<path d="M166.6,479.3 L166.4,480.0 L166.2,480.9 L166.1,481.8 L166.1,482.7 L166.1,483.7 L166.1,484.7 L166.3,485.8 L166.5,486.8 L166.7,487.9 L167.0,489.1 L167.4,490.2 L167.8,491.3 L168.2,492.5 L168.7,493.6 L169.3,494.7 L169.9,495.8 L170.5,496.9 L171.2,498.0 L171.9,499.0 L172.6,499.9 L173.4,500.9 L174.2,501.7 L175.0,502.6 L175.8,503.3 L176.6,504.0 L177.4,504.7 L178.3,505.2 L179.1,505.7 L179.9,506.1 L180.7,506.5 L181.5,506.7 L182.3,506.9 L183.0,507.0 L183.8,507.0 L184.4,507.0 L185.1,506.8 L185.7,506.6 L186.3,506.3 L186.8,505.9 L187.3,505.4" fill="none" stroke="#1c1c1c" stroke-width="0.9" />
<path d="M137.2,502.9 L151.4,495.1 L151.4,495.1 L151.8,494.9 L152.2,494.7 L152.7,494.7 L153.1,494.6 L153.6,494.6 L154.1,494.7 L154.6,494.8 L155.1,494.9 L155.6,495.1 L156.1,495.4 L156.6,495.7 L157.1,496.0 L157.6,496.4 L158.1,496.8 L158.5,497.2 L159.0,497.7 L159.4,498.2 L159.8,498.7 L160.2,499.3 L160.5,499.9 L160.8,500.5 L161.1,501.1 L161.3,501.7 L161.5,502.3 L161.7,503.0 L161.9,503.6 L162.0,504.2 L162.0,504.8 L162.0,505.4 L162.0,506.0 L162.0,506.6 L161.9,507.1 L161.7,507.6 L161.5,508.1 L161.3,508.5 L161.1,508.9 L160.8,509.3 L160.5,509.6 L160.1,509.9 L159.8,510.1 L145.6,517.9 Z" fill="#fff" stroke="#1c1c1c" stroke-width="1.1" />
<ellipse cx="142.4" cy="510.2" rx="9.0" ry="14.4" transform="rotate(-29.0 142.4 510.2)" fill="#fff" stroke="#1c1c1c" stroke-width="1.1" />
<ellipse cx="140.0" cy="511.4" rx="8.8" ry="14.0" transform="rotate(-29.0 140.0 511.4)" fill="#fff" stroke="#1c1c1c" stroke-width="1.0" />
<path d="M128.8,506.3 L134.6,503.1 L143.8,519.7 L138.0,522.9 Z" fill="#fff" stroke="#1c1c1c" stroke-width="1.0" />
<ellipse cx="133.4" cy="514.6" rx="5.9" ry="9.5" transform="rotate(-29.0 133.4 514.6)" fill="#fff" stroke="#1c1c1c" stroke-width="1.1" />
<ellipse cx="133.9" cy="514.4" rx="4.6" ry="8.0" transform="rotate(-29.0 133.9 514.4)" fill="#fff" stroke="#1c1c1c" stroke-width="0.9" />
<path d="M137.6,520.3 L138.0,520.4 L138.4,520.4 L138.8,520.4 L139.1,520.4 L139.5,520.3 L139.8,520.2 L140.1,520.1 L140.4,519.9 L140.6,519.6 L140.8,519.4 L141.0,519.0 L141.2,518.7 L141.3,518.3 L141.4,517.9 L141.5,517.4 L141.5,517.0 L141.5,516.5 L141.5,516.0 L141.4,515.4 L141.3,514.9 L141.2,514.4 L141.1,513.8 L140.9,513.2 L140.7,512.7 L140.4,512.1 L140.2,511.6 L139.9,511.0 L139.5,510.5 L139.2,510.0 L138.9,509.5 L138.5,509.1 L138.1,508.6 L137.7,508.2 L137.3,507.8 L136.9,507.5 L136.5,507.2 L136.0,506.9 L135.6,506.7 L135.2,506.5 L134.8,506.3" fill="none" stroke="#1c1c1c" stroke-width="0.8" />
<ellipse cx="513.4" cy="428.3" rx="5.8" ry="8.6" transform="rotate(-29.0 513.4 428.3)" fill="#fff" stroke="#1c1c1c" stroke-width="1.1" />
<ellipse cx="511.8" cy="429.2" rx="5.8" ry="8.6" transform="rotate(-29.0 511.8 429.2)" fill="#fff" stroke="#1c1c1c" stroke-width="1.2" />
<path d="M511.1,422.0 L510.9,421.9 L510.7,421.9 L510.5,421.9 L510.3,421.9 L510.1,421.9 L509.9,421.9 L509.7,421.9 L509.5,421.9 L509.3,421.9 L509.2,422.0 L509.0,422.0 L508.8,422.1 L508.6,422.2 L508.5,422.3 L508.3,422.3 L508.2,422.4 L508.0,422.6 L507.9,422.7 L507.8,422.8 L507.6,422.9 L507.5,423.1 L507.4,423.2 L507.3,423.4 L507.2,423.6 L507.1,423.7 L507.0,423.9 L506.9,424.1 L506.8,424.3 L506.8,424.5 L506.7,424.7 L506.7,424.9 L506.6,425.2 L506.6,425.4 L506.6,425.6 L506.5,425.8 L506.5,426.1 L506.5,426.3 L506.5,426.6 L506.5,426.8 L506.5,427.1" fill="none" stroke="#333" stroke-width="1.7" />
<path d="M514.7,436.1 L514.8,436.1 L515.0,436.1 L515.1,436.1 L515.2,436.0 L515.3,436.0 L515.5,435.9 L515.6,435.9 L515.7,435.8 L515.8,435.8 L515.9,435.7 L516.0,435.7 L516.2,435.6 L516.3,435.5 L516.4,435.4 L516.5,435.4 L516.6,435.3 L516.7,435.2 L516.7,435.1 L516.8,435.0 L516.9,434.9 L517.0,434.8 L517.1,434.7 L517.1,434.6 L517.2,434.4 L517.3,434.3 L517.4,434.2 L517.4,434.1 L517.5,433.9 L517.5,433.8 L517.6,433.6 L517.6,433.5 L517.7,433.4 L517.7,433.2 L517.7,433.1 L517.8,432.9 L517.8,432.7 L517.8,432.6 L517.8,432.4 L517.9,432.2 L517.9,432.1" fill="none" stroke="#333" stroke-width="1.7" />
<ellipse cx="512.8" cy="428.7" rx="3.9" ry="6.6" transform="rotate(-29.0 512.8 428.7)" fill="#fff" stroke="#1c1c1c" stroke-width="0.9" />
<ellipse cx="504.8" cy="433.9" rx="5.8" ry="8.8" transform="rotate(-29.0 504.8 433.9)" fill="#fff" stroke="#1c1c1c" stroke-width="1.1" />
<ellipse cx="503.0" cy="434.9" rx="5.8" ry="8.8" transform="rotate(-29.0 503.0 434.9)" fill="#fff" stroke="#1c1c1c" stroke-width="1.2" />
<path d="M502.2,427.5 L502.0,427.5 L501.8,427.4 L501.6,427.4 L501.4,427.4 L501.2,427.4 L501.0,427.4 L500.8,427.4 L500.6,427.4 L500.4,427.5 L500.3,427.5 L500.1,427.6 L499.9,427.6 L499.8,427.7 L499.6,427.8 L499.4,427.9 L499.3,428.0 L499.1,428.1 L499.0,428.2 L498.9,428.3 L498.7,428.5 L498.6,428.6 L498.5,428.8 L498.4,428.9 L498.3,429.1 L498.2,429.3 L498.1,429.5 L498.0,429.7 L498.0,429.9 L497.9,430.1 L497.8,430.3 L497.8,430.5 L497.7,430.7 L497.7,430.9 L497.7,431.2 L497.7,431.4 L497.7,431.7 L497.7,431.9 L497.7,432.2 L497.7,432.4 L497.7,432.7" fill="none" stroke="#333" stroke-width="1.9" />
<path d="M505.5,442.0 L505.7,442.0 L505.8,442.0 L506.0,442.0 L506.1,442.0 L506.3,442.0 L506.4,441.9 L506.5,441.9 L506.7,441.8 L506.8,441.8 L506.9,441.8 L507.1,441.7 L507.2,441.6 L507.3,441.6 L507.4,441.5 L507.5,441.4 L507.7,441.3 L507.8,441.2 L507.9,441.1 L508.0,441.0 L508.1,440.9 L508.2,440.8 L508.2,440.7 L508.3,440.6 L508.4,440.5 L508.5,440.3 L508.6,440.2 L508.6,440.1 L508.7,439.9 L508.8,439.8 L508.8,439.6 L508.9,439.5 L508.9,439.3 L509.0,439.1 L509.0,439.0 L509.0,438.8 L509.1,438.6 L509.1,438.5 L509.1,438.3 L509.1,438.1 L509.1,437.9" fill="none" stroke="#333" stroke-width="2.0" />
<ellipse cx="504.0" cy="434.4" rx="3.8" ry="6.6" transform="rotate(-29.0 504.0 434.4)" fill="#fff" stroke="#1c1c1c" stroke-width="0.9" />
<path d="M492.2,435.6 Q490.4,432.4 492.6,430.4 Q494.6,429 497.2,431.6" fill="none" stroke="#1c1c1c" stroke-width="1.1" />
<path d="M500.4,437.6 Q502.6,440.6 501.6,443.6 Q500.2,446.4 497.4,446 Q496,445.6 495.6,444.2" fill="none" stroke="#1c1c1c" stroke-width="1.1" />
<path d="M477.4,440.3 L487.7,435.1 Q493.4,436.4 495.1,443.1 Q495.4,446.6 494,448.9 L484.3,455.1 Z" fill="#fff" stroke="#1c1c1c" stroke-width="1.0" />
<path d="M474.8,441.6 L478.8,439.6 Q484.6,444 485.8,454.2 L481.6,456.4 Q481,446.4 474.8,441.6 Z" fill="#fff" stroke="#1c1c1c" stroke-width="1.0" />
<path d="M475.6,442.4 l3.4,-1.8" fill="none" stroke="#2a2a2a" stroke-width="1.5" />
<path d="M476.7,444.7 l3.4,-1.8" fill="none" stroke="#2a2a2a" stroke-width="1.5" />
<path d="M477.8,447.0 l3.4,-1.8" fill="none" stroke="#2a2a2a" stroke-width="1.5" />
<path d="M478.8,449.4 l3.4,-1.8" fill="none" stroke="#2a2a2a" stroke-width="1.5" />
<path d="M479.9,451.7 l3.4,-1.8" fill="none" stroke="#2a2a2a" stroke-width="1.5" />
<path d="M481.0,454.0 l3.4,-1.8" fill="none" stroke="#2a2a2a" stroke-width="1.5" />
<path d="M460.9,449.7 L473.4,442.8 L473.4,442.8 L473.8,442.7 L474.1,442.6 L474.5,442.5 L474.9,442.5 L475.3,442.5 L475.7,442.6 L476.1,442.7 L476.5,442.9 L477.0,443.1 L477.4,443.4 L477.9,443.6 L478.3,444.0 L478.8,444.4 L479.2,444.8 L479.6,445.2 L480.0,445.7 L480.4,446.2 L480.8,446.7 L481.1,447.2 L481.4,447.8 L481.7,448.3 L482.0,448.9 L482.2,449.5 L482.5,450.1 L482.6,450.7 L482.8,451.3 L482.9,451.8 L483.0,452.4 L483.0,453.0 L483.1,453.5 L483.0,454.0 L483.0,454.5 L482.9,454.9 L482.8,455.4 L482.6,455.8 L482.4,456.1 L482.2,456.5 L482.0,456.7 L481.7,457.0 L481.4,457.2 L468.9,464.1 Z" fill="#fff" stroke="#1c1c1c" stroke-width="1.0" />
<ellipse cx="464.9" cy="456.9" rx="4.6" ry="8.2" transform="rotate(-29.0 464.9 456.9)" fill="#fff" stroke="#1c1c1c" stroke-width="1.2" />
<ellipse cx="465.1" cy="456.9" rx="3.2" ry="6.4" transform="rotate(-29.0 465.1 456.9)" fill="#a8a8a8" stroke="#1c1c1c" stroke-width="1.0" />
<path d="M460.6,453.3 l2.8,-1.4" fill="none" stroke="#222" stroke-width="0.9" />
<path d="M461.9,452.5 l2.8,-1.4" fill="none" stroke="#222" stroke-width="0.9" />
<path d="M463.9,453.7 l2.8,-1.4" fill="none" stroke="#222" stroke-width="0.9" />
<path d="M465.8,456.2 l2.8,-1.4" fill="none" stroke="#222" stroke-width="0.9" />
<path d="M466.9,459.2 l2.8,-1.4" fill="none" stroke="#222" stroke-width="0.9" />
<path d="M466.8,461.5 l2.8,-1.4" fill="none" stroke="#222" stroke-width="0.9" />
<path d="M417.1 465.4 C417.1 458.9 421.4 454.1 427.9 452.0 L438.6 445.0 L440.7 441.8 Q446.1 439.1 449.3 441.8 L455.7 451.4 C463.2 460.0 467.5 470.7 464.3 481.4 Q463.2 486.8 460.0 489.5 C455.7 494.3 447.1 497.5 440.7 496.4 C435.4 495.4 431.1 492.7 428.7 490.0 L415.0 499.6 L403.2 479.3 L418.2 472.9 Z" fill="#fff" stroke="#1c1c1c" stroke-width="1.1" />
<path d="M432.1 451.4 C442.9 454.6 451.4 472.9 449.3 493.2 " fill="none" stroke="#1c1c1c" stroke-width="1.0" />
<path d="M436.4 449.8 C447.1 453.0 455.7 472.9 452.5 492.7 " fill="none" stroke="#1c1c1c" stroke-width="1.0" />
<path d="M440.2 448.2 C451.4 451.4 460.0 472.9 456.8 491.6 " fill="none" stroke="#1c1c1c" stroke-width="1.0" />
<path d="M447.1 449.3 C455.7 457.9 461.1 472.9 458.4 490.0 " fill="none" stroke="#1c1c1c" stroke-width="1.0" />
<path d="M426.8 451.4 L437.5 445.5 M442.3 443.4 L443.9 447.1 L442.3 446.1 M447.7 455.2 L450.4 458.9 " fill="none" stroke="#1c1c1c" stroke-width="0.9" />
<path d="M419.1 462.1 C419.8 457.3 425.7 454.1 431.1 455.7 C435.4 457.3 434.3 462.1 430.5 465.4 C425.7 469.1 418.2 467.5 419.1 462.1 Z" fill="#fff" stroke="#1c1c1c" stroke-width="1.0" />
<path d="M422.0 464.3 L429.8 460.3 M428.1 458.1 L431.3 462.1 " fill="none" stroke="#1c1c1c" stroke-width="0.9" />
<path d="M435.9 462.7 Q434.8 467.0 437.5 470.7 M440.2 475.5 Q439.4 478.8 441.8 481.4 " fill="none" stroke="#1c1c1c" stroke-width="0.9" />
<path d="M434.1 484.1 L439.9 478.8 L447.1 483.6 Q448.8 490.0 442.9 493.4 Q435.9 493.2 434.1 484.1 Z" fill="#fff" stroke="#1c1c1c" stroke-width="1.0" />
<path d="M434.3 485.7 L447.1 484.4 M435.9 487.9 L447.7 486.8 " fill="none" stroke="#1c1c1c" stroke-width="0.9" />
<path d="M403.2 479.3 L434.3 462.1 L435.4 465.4 L427.9 491.1 L415.0 499.6 Z" fill="#fff" stroke="none" stroke-width="1" />
<path d="M403.2 479.3 L434.3 462.1 M406.6 481.6 L435.6 465.6 M404.8 480.4 L434.9 463.8 M415.0 499.6 L427.6 491.3 M410.7 484.6 Q416.1 490.0 416.1 496.4 " fill="none" stroke="#1c1c1c" stroke-width="1.0" />
<circle cx="428.7" cy="488.4" r="1.6" fill="#fff" stroke="#1c1c1c" stroke-width="1.2"/>
<ellipse cx="394.9" cy="497.3" rx="17.6" ry="26.5" transform="rotate(-29.0 394.9 497.3)" fill="#fff" stroke="#1c1c1c" stroke-width="1.1" />
<ellipse cx="393.7" cy="498.0" rx="17.6" ry="26.5" transform="rotate(-29.0 393.7 498.0)" fill="none" stroke="#1c1c1c" stroke-width="0.8" />
<ellipse cx="392.5" cy="498.6" rx="17.6" ry="26.5" transform="rotate(-29.0 392.5 498.6)" fill="#fff" stroke="#1c1c1c" stroke-width="1.1" />
<path d="M413.5,511.8 L413.7,510.7 L413.9,509.5 L414.0,508.3 L414.1,507.1 L414.1,505.8 L414.1,504.5 L414.0,503.2 L413.9,501.9 L413.6,500.6 L413.4,499.2 L413.0,497.9 L412.6,496.5 L412.2,495.2 L411.7,493.9 L411.2,492.5 L410.6,491.2 L409.9,489.9 L409.2,488.7 L408.5,487.4 L407.7,486.2 L406.9,485.0 L406.0,483.9 L405.1,482.8 L404.2,481.8 L403.2,480.8 L402.2,479.8 L401.2,478.9 L400.2,478.1 L399.1,477.3 L398.1,476.5 L397.0,475.9 L395.9,475.3 L394.8,474.7 L393.7,474.3 L392.6,473.9 L391.5,473.6 L390.5,473.3 L389.4,473.1 L388.3,473.0 L387.3,473.0" fill="none" stroke="#333" stroke-width="1.6" stroke-dasharray="1.2 1"/>
<ellipse cx="393.4" cy="500.2" rx="9.2" ry="18.2" transform="rotate(-29.0 393.4 500.2)" fill="#fff" stroke="#1c1c1c" stroke-width="1.1" />
<path d="M384.7,486.2 L384.4,487.0 L384.2,487.8 L384.0,488.7 L383.9,489.7 L383.9,490.7 L384.0,491.8 L384.1,493.0 L384.2,494.1 L384.5,495.3 L384.8,496.6 L385.2,497.8 L385.6,499.1 L386.2,500.3 L386.7,501.6 L387.3,502.8 L388.0,504.0 L388.7,505.2 L389.5,506.3 L390.3,507.4 L391.1,508.5 L391.9,509.5 L392.8,510.4 L393.7,511.3 L394.6,512.0 L395.5,512.7 L396.4,513.4 L397.3,513.9 L398.2,514.3 L399.0,514.7 L399.9,515.0 L400.7,515.1 L401.5,515.2 L402.2,515.1 L402.9,515.0 L403.6,514.8 L404.2,514.4 L404.7,514.0 L405.2,513.5 L405.7,512.9 L406.1,512.2" fill="none" stroke="#1c1c1c" stroke-width="0.9" />
<path d="M380.0,482.0 L379.6,482.5 L379.2,483.0 L378.9,483.6 L378.6,484.2 L378.3,484.8 L378.0,485.5" fill="none" stroke="#1c1c1c" stroke-width="1.3" />
<path d="M377.1,490.5 L377.1,491.2 L377.1,492.0 L377.1,492.8 L377.2,493.6 L377.3,494.4 L377.4,495.2" fill="none" stroke="#1c1c1c" stroke-width="1.3" />
<path d="M391.5,480.2 L390.8,479.9 L390.2,479.7 L389.5,479.5 L388.9,479.4 L388.3,479.3 L387.7,479.2" fill="none" stroke="#1c1c1c" stroke-width="1.3" />
<path d="M401.3,488.0 L400.8,487.4 L400.3,486.9 L399.8,486.3 L399.3,485.8 L398.8,485.2 L398.3,484.7" fill="none" stroke="#1c1c1c" stroke-width="1.3" />
<path d="M407.2,498.7 L407.0,498.0 L406.7,497.3 L406.4,496.6 L406.1,495.9 L405.8,495.2 L405.4,494.5" fill="none" stroke="#1c1c1c" stroke-width="1.3" />
<path d="M406.1,517.1 L406.5,516.6 L406.8,516.1 L407.1,515.6 L407.4,515.1 L407.7,514.5 L407.9,514.0" fill="none" stroke="#1c1c1c" stroke-width="1.3" />
<path d="M395.1,519.2 L395.6,519.4 L396.0,519.5 L396.5,519.7 L396.9,519.8 L397.4,519.9 L397.8,519.9" fill="none" stroke="#1c1c1c" stroke-width="1.3" />
<path d="M381.4,481.4 l3,-1.4 l1,1.6 M376.6,488.4 l1.4,3 M391.4,522 l4,0.4 l0.4,-1.6" fill="none" stroke="#1c1c1c" stroke-width="0.9" />
<ellipse cx="373.4" cy="509.8" rx="12.2" ry="18.6" transform="rotate(-29.0 373.4 509.8)" fill="#fff" stroke="#1c1c1c" stroke-width="1.1" />
<ellipse cx="370.6" cy="511.4" rx="12.2" ry="18.6" transform="rotate(-29.0 370.6 511.4)" fill="#fff" stroke="#1c1c1c" stroke-width="1.1" />
<path d="M371.0,497.7 L370.6,497.5 L370.3,497.4 L369.9,497.2 L369.6,497.1 L369.2,497.0 L368.8,496.9 L368.5,496.8 L368.1,496.7 L367.8,496.7 L367.4,496.7 L367.1,496.7 L366.8,496.7 L366.4,496.7 L366.1,496.7 L365.8,496.7 L365.5,496.8 L365.2,496.9 L364.9,497.0 L364.6,497.1 L364.3,497.2 L364.0,497.3 L363.8,497.5 L363.5,497.6 L363.3,497.8 L363.0,498.0 L362.8,498.2 L362.6,498.5 L362.3,498.7 L362.1,498.9 L361.9,499.2 L361.8,499.5 L361.6,499.8 L361.4,500.1 L361.3,500.4 L361.1,500.7 L361.0,501.0 L360.9,501.4 L360.8,501.8 L360.7,502.1 L360.6,502.5" fill="none" stroke="#333" stroke-width="2.4" />
<path d="M376.9,525.4 L377.1,525.3 L377.4,525.3 L377.6,525.3 L377.8,525.2 L378.1,525.2 L378.3,525.1 L378.5,525.0 L378.7,524.9 L379.0,524.8 L379.2,524.7 L379.4,524.6 L379.6,524.4 L379.8,524.3 L380.0,524.2 L380.1,524.0 L380.3,523.8 L380.5,523.7 L380.6,523.5 L380.8,523.3 L381.0,523.1 L381.1,522.9 L381.2,522.7 L381.4,522.5 L381.5,522.2 L381.6,522.0 L381.7,521.8 L381.8,521.5 L381.9,521.3 L382.0,521.0 L382.1,520.7 L382.2,520.5 L382.3,520.2 L382.3,519.9 L382.4,519.6 L382.4,519.3 L382.5,519.0 L382.5,518.7 L382.5,518.4 L382.6,518.0 L382.6,517.7" fill="none" stroke="#333" stroke-width="2.6" />
<ellipse cx="372.6" cy="512.6" rx="5.8" ry="12.4" transform="rotate(-29.0 372.6 512.6)" fill="#fff" stroke="#1c1c1c" stroke-width="1.0" />
<path d="M367.3,501.8 L367.1,502.1 L366.9,502.4 L366.7,502.8 L366.6,503.3 L366.5,503.8 L366.4,504.3 L366.3,504.8 L366.3,505.4 L366.3,506.0 L366.4,506.6 L366.5,507.2 L366.6,507.9 L366.7,508.6 L366.9,509.3 L367.1,510.0 L367.4,510.7 L367.6,511.4 L367.9,512.1 L368.3,512.9 L368.6,513.6 L369.0,514.3 L369.4,515.0 L369.8,515.7 L370.2,516.3 L370.6,517.0 L371.1,517.6 L371.6,518.2 L372.1,518.8 L372.6,519.3 L373.0,519.8 L373.5,520.3 L374.0,520.7 L374.6,521.1 L375.1,521.5 L375.5,521.8 L376.0,522.1 L376.5,522.3 L377.0,522.5 L377.4,522.7 L377.9,522.8" fill="none" stroke="#1c1c1c" stroke-width="0.8" />
<path d="M383.4,519.1 L383.5,518.5 L383.5,517.9 L383.5,517.3 L383.5,516.7 L383.5,516.0 L383.5,515.4 L383.4,514.7 L383.3,514.1 L383.2,513.4 L383.0,512.8 L382.9,512.1 L382.7,511.4 L382.5,510.8 L382.3,510.1 L382.0,509.4 L381.8,508.8 L381.5,508.1 L381.2,507.4 L380.8,506.8 L380.5,506.2 L380.1,505.5 L379.8,504.9 L379.4,504.3 L379.0,503.7 L378.5,503.1 L378.1,502.6 L377.7,502.0 L377.2,501.5 L376.7,501.0 L376.2,500.5 L375.8,500.0 L375.3,499.6 L374.7,499.1 L374.2,498.7 L373.7,498.4 L373.2,498.0 L372.7,497.7 L372.1,497.4 L371.6,497.1 L371.1,496.8" fill="none" stroke="#1c1c1c" stroke-width="0.8" />
<path d="M358.4,500.4 L360.6,503.4 M362.4,495.6 L360,497.6" fill="none" stroke="#1c1c1c" stroke-width="1.0" />
<circle cx="377.6" cy="525.6" r="1.4" fill="#fff" stroke="#222" stroke-width="0.9"/>
<path d="M372.4,524.6 L376,523.2 M373,527.4 L378.6,527.8" fill="none" stroke="#1c1c1c" stroke-width="1.2" />
<ellipse cx="351.6" cy="522.0" rx="15.3" ry="25.0" transform="rotate(-29.0 351.6 522.0)" fill="none" stroke="#1c1c1c" stroke-width="1.25" />
<path d="M365.5,524.3 L365.5,523.9 L365.4,523.5 L365.3,523.1 L365.2,522.6 L365.1,522.2 L364.9,521.8 L364.8,521.4 L364.7,521.0 L364.6,520.5 L364.4,520.1 L364.3,519.7 L364.1,519.3 L363.9,518.9 L363.8,518.5 L363.6,518.0 L363.4,517.6 L363.2,517.2 L363.0,516.8 L362.8,516.4 L362.6,516.0 L362.4,515.6 L362.2,515.2 L362.0,514.8 L361.7,514.4 L361.5,514.0 L361.2,513.6 L361.0,513.2 L360.8,512.9 L360.5,512.5 L360.2,512.1 L360.0,511.8 L359.7,511.4 L359.4,511.1 L359.2,510.7 L358.9,510.4 L358.6,510.0 L358.3,509.7 L358.0,509.4 L357.7,509.1 L357.4,508.7" fill="none" stroke="#1c1c1c" stroke-width="0.9" />
<path d="M181.1,613.1 L197.6,603.6 L197.1,602.8 L211.9,594.4 L212.2,595.0 L222.6,589.0 L222.5,588.8 L243.3,576.8 L244.7,575.3 L285.5,552.0 L292.5,550.1 L301.2,545.2 L301.4,545.5 L321.4,534.1 L321.5,534.3 L340.6,523.4 L341.7,525.3 L346.0,522.8 L348.8,527.7 L344.5,530.2 L345.6,532.1 L326.5,543.0 L326.6,543.3 L306.7,554.7 L306.9,555.1 L298.2,560.0 L293.1,565.2 L252.3,588.5 L250.3,589.0 L229.4,600.9 L229.3,600.7 L218.9,606.6 L219.2,607.2 L204.5,615.7 L204.0,614.9 L187.5,624.3 Z" fill="#fff" stroke="#1c1c1c" stroke-width="1" />
<path d="M197.1,602.8 L211.9,594.4 L211.9,594.4 L212.8,594.1 L213.8,594.1 L215.0,594.5 L216.2,595.1 L217.3,596.1 L218.4,597.3 L219.3,598.7 L220.0,600.2 L220.5,601.7 L220.7,603.1 L220.7,604.5 L220.5,605.7 L220.0,606.6 L219.2,607.2 L204.5,615.7 L204.5,615.7 L205.2,615.0 L205.7,614.1 L206.0,612.9 L206.0,611.6 L205.7,610.1 L205.2,608.6 L204.5,607.1 L203.6,605.7 L202.5,604.5 L201.4,603.6 L200.2,602.9 L199.1,602.5 L198.0,602.5 L197.1,602.8 Z" fill="#8a8a8a" stroke="#1c1c1c" stroke-width="1.0" />
<path d="M206.7,614.3 L207.2,613.6 L207.6,612.6 L207.8,611.5 L207.7,610.2 L207.4,608.9 L206.9,607.5 L206.2,606.1 L205.4,604.9 L204.5,603.8 L203.5,602.8 L202.4,602.1 L201.3,601.7 L200.3,601.5 L199.4,601.6" fill="none" stroke="#222" stroke-width="1.0" />
<path d="M209.0,613.0 L209.6,612.2 L209.9,611.3 L210.1,610.1 L210.0,608.9 L209.7,607.5 L209.3,606.1 L208.6,604.8 L207.8,603.5 L206.8,602.4 L205.8,601.5 L204.7,600.8 L203.7,600.3 L202.7,600.2 L201.7,600.3" fill="none" stroke="#222" stroke-width="1.0" />
<path d="M211.4,611.6 L211.9,610.9 L212.3,609.9 L212.4,608.8 L212.4,607.5 L212.1,606.2 L211.6,604.8 L210.9,603.4 L210.1,602.2 L209.2,601.1 L208.1,600.1 L207.1,599.4 L206.0,599.0 L205.0,598.8 L204.1,598.9" fill="none" stroke="#222" stroke-width="1.0" />
<path d="M213.7,610.3 L214.3,609.6 L214.6,608.6 L214.8,607.5 L214.7,606.2 L214.4,604.8 L213.9,603.5 L213.3,602.1 L212.5,600.8 L211.5,599.7 L210.5,598.8 L209.4,598.1 L208.4,597.6 L207.3,597.5 L206.4,597.6" fill="none" stroke="#222" stroke-width="1.0" />
<path d="M216.1,609.0 L216.6,608.2 L217.0,607.3 L217.1,606.1 L217.1,604.8 L216.8,603.5 L216.3,602.1 L215.6,600.8 L214.8,599.5 L213.9,598.4 L212.8,597.5 L211.8,596.8 L210.7,596.3 L209.7,596.1 L208.8,596.2" fill="none" stroke="#222" stroke-width="1.0" />
<path d="M218.4,607.6 L219.0,606.9 L219.3,605.9 L219.5,604.8 L219.4,603.5 L219.1,602.2 L218.6,600.8 L218.0,599.4 L217.1,598.2 L216.2,597.0 L215.2,596.1 L214.1,595.4 L213.0,595.0 L212.0,594.8 L211.1,594.9" fill="none" stroke="#222" stroke-width="1.0" />
<path d="M200.4,603.0 L215.1,594.6" fill="none" stroke="#1a1a1a" stroke-width="1.0" />
<path d="M202.4,604.5 L217.2,596.1" fill="none" stroke="#1a1a1a" stroke-width="1.0" />
<path d="M203.9,606.3 L218.7,597.9" fill="none" stroke="#1a1a1a" stroke-width="1.0" />
<path d="M205.0,608.3 L219.8,599.9" fill="none" stroke="#1a1a1a" stroke-width="1.0" />
<path d="M205.8,610.6 L220.5,602.1" fill="none" stroke="#1a1a1a" stroke-width="1.0" />
<path d="M205.9,613.1 L220.7,604.7" fill="none" stroke="#1a1a1a" stroke-width="1.0" />
<ellipse cx="184.3" cy="618.7" rx="4.0" ry="6.7" transform="rotate(-29.8 184.3 618.7)" fill="#fff" stroke="#1c1c1c" stroke-width="1" />
<path d="M229.4,600.8 L229.8,600.4 L230.1,599.8 L230.2,599.1 L230.1,598.1 L229.9,597.0 L229.5,595.9 L229.0,594.6 L228.4,593.5 L227.7,592.3 L226.9,591.3 L226.1,590.4 L225.2,589.6 L224.5,589.1 L223.7,588.8 L223.1,588.7 L222.5,588.9" fill="none" stroke="#1c1c1c" stroke-width="0.9" />
<path d="M232.0,599.3 L232.4,599.0 L232.7,598.4 L232.8,597.6 L232.7,596.6 L232.5,595.5 L232.1,594.4 L231.6,593.2 L231.0,592.0 L230.3,590.8 L229.5,589.8 L228.7,588.9 L227.9,588.1 L227.1,587.6 L226.3,587.3 L225.7,587.2 L225.1,587.4" fill="none" stroke="#1c1c1c" stroke-width="0.9" />
<path d="M234.6,597.9 L235.0,597.5 L235.3,596.9 L235.4,596.1 L235.3,595.1 L235.1,594.0 L234.7,592.9 L234.2,591.7 L233.6,590.5 L232.9,589.3 L232.1,588.3 L231.3,587.4 L230.5,586.6 L229.7,586.1 L228.9,585.8 L228.3,585.7 L227.7,585.9" fill="none" stroke="#1c1c1c" stroke-width="0.9" />
<path d="M249.8,589.6 L250.2,589.1 L250.5,588.4 L250.6,587.5 L250.5,586.5 L250.3,585.3 L250.0,584.1 L249.5,582.9 L248.9,581.7 L248.1,580.6 L247.3,579.6 L246.5,578.6 L245.6,577.9 L244.8,577.3 L244.0,577.0 L243.2,576.9 L242.6,577.0" fill="none" stroke="#1c1c1c" stroke-width="0.9" />
<path d="M290.7,566.5 L291.2,565.9 L291.4,565.2 L291.6,564.3 L291.5,563.2 L291.3,562.1 L290.9,560.8 L290.4,559.6 L289.8,558.3 L289.0,557.1 L288.2,556.0 L287.3,555.1 L286.4,554.3 L285.5,553.7 L284.7,553.4 L283.9,553.2 L283.2,553.3" fill="none" stroke="#1c1c1c" stroke-width="0.9" />
<path d="M304.1,556.3 L304.5,555.9 L304.7,555.4 L304.7,554.6 L304.6,553.7 L304.3,552.7 L303.9,551.6 L303.4,550.5 L302.7,549.5 L302.0,548.6 L301.3,547.8 L300.5,547.3 L299.9,546.9 L299.3,546.8 L298.8,546.9" fill="none" stroke="#1c1c1c" stroke-width="0.9" />
<path d="M307.6,554.3 L308.0,553.9 L308.2,553.4 L308.2,552.6 L308.1,551.7 L307.8,550.7 L307.4,549.6 L306.8,548.5 L306.2,547.5 L305.5,546.6 L304.7,545.8 L304.0,545.3 L303.3,544.9 L302.7,544.8 L302.2,544.9" fill="none" stroke="#1c1c1c" stroke-width="0.9" />
<path d="M322.6,534.7 L341.0,524.1" fill="none" stroke="#222" stroke-width="1.0" />
<path d="M322.1,536.9 L341.9,525.6" fill="none" stroke="#222" stroke-width="1.0" />
<path d="M321.7,539.1 L342.7,527.1" fill="none" stroke="#222" stroke-width="1.0" />
<path d="M322.5,540.6 L343.5,528.5" fill="none" stroke="#222" stroke-width="1.0" />
<path d="M324.7,541.3 L344.4,530.0" fill="none" stroke="#222" stroke-width="1.0" />
<path d="M326.8,542.0 L345.2,531.5" fill="none" stroke="#222" stroke-width="1.0" />
<path d="M345.6,532.1 L346.1,531.7 L346.4,531.0 L346.6,530.2 L346.6,529.3 L346.4,528.3 L346.1,527.3 L345.6,526.3 L345.0,525.4 L344.3,524.6 L343.5,523.9 L342.7,523.5 L342.0,523.2 L341.2,523.2 L340.6,523.4" fill="none" stroke="#1c1c1c" stroke-width="0.9" />
<path d="M345.8,529.4 L346.3,528.9 L346.4,527.9 L346.1,526.8 L345.4,525.7 L344.6,524.9 L343.8,524.5 L343.0,524.6 L342.5,525.2 L342.4,526.1 L342.7,527.2 L343.4,528.3 L344.2,529.1 L345.1,529.5 L345.8,529.4" fill="none" stroke="#1c1c1c" stroke-width="0.8" />
<path d="M347.1,528.7 L347.6,528.1 L347.7,527.2 L347.4,526.0 L346.7,524.9 L345.9,524.1 L345.1,523.7 L344.3,523.8 L343.8,524.4 L343.8,525.4 L344.0,526.5 L344.7,527.6 L345.5,528.4 L346.4,528.8 L347.1,528.7" fill="none" stroke="#1c1c1c" stroke-width="0.8" />
<path d="M348.4,527.9 L348.9,527.4 L349.0,526.4 L348.7,525.3 L348.0,524.2 L347.2,523.4 L346.4,523.0 L345.6,523.1 L345.1,523.7 L345.1,524.6 L345.3,525.8 L346.0,526.8 L346.8,527.7 L347.7,528.1 L348.4,527.9" fill="none" stroke="#1c1c1c" stroke-width="0.8" />
<ellipse cx="348.3" cy="524.8" rx="1.7" ry="2.8" transform="rotate(-29.8 348.3 524.8)" fill="#ddd" stroke="#1c1c1c" stroke-width="0.9" />
<path d="M142.9,611.6 L149.0,601.5 L150.0,602.6 L162.4,596.2 L163.7,596.9 L163.9,604.3 L151.2,611.8 L150.2,614.9 Z" fill="#1c1c1c" stroke="#1c1c1c" stroke-width="0.9" />
<g transform="translate(156.2,604.6) rotate(-31) skewX(-8)"><text x="0" y="2.9" font-size="8" font-weight="bold" text-anchor="middle" style="fill:#fff;letter-spacing:-0.6px">FWD</text></g>
<path d="M441.0,410.9 L448.4,407.1" fill="none" stroke="#1c1c1c" stroke-width="3.6" />
<path d="M441.0,410.9 L448.4,407.1" fill="none" stroke="#ddd" stroke-width="1.6" />
<path d="M442.2,409.2 l1.1,2.2 M443.8,408.4 l1.1,2.2 M445.4,407.6 l1.1,2.2 M447,406.8 l1.1,2.2" fill="none" stroke="#222" stroke-width="0.8" />
<circle cx="450.8" cy="405.2" r="3.3" fill="#fff" stroke="#1c1c1c" stroke-width="1.4"/>
<circle cx="450.9" cy="404.9" r="1.7" fill="none" stroke="#1c1c1c" stroke-width="1.0"/>
<text x="357.5" y="72.4" font-size="9.6" text-anchor="middle" stroke="#161616" stroke-width="0.12" >35</text>
<text x="406.3" y="75.4" font-size="9.6" text-anchor="middle" stroke="#161616" stroke-width="0.12" >34</text>
<text x="357.3" y="88.6" font-size="9.6" text-anchor="middle" stroke="#161616" stroke-width="0.12" >36</text>
<text x="357.3" y="98.5" font-size="9.6" text-anchor="middle" stroke="#161616" stroke-width="0.12" >36</text>
<text x="347.4" y="112.3" font-size="9.6" text-anchor="middle" stroke="#161616" stroke-width="0.12" >4</text>
<text x="348.0" y="125.5" font-size="9.6" text-anchor="middle" stroke="#161616" stroke-width="0.12" >3</text>
<text x="370.4" y="170.3" font-size="9.6" text-anchor="middle" stroke="#161616" stroke-width="0.12" >5</text>
<text x="350.0" y="213.5" font-size="9.6" text-anchor="middle" stroke="#161616" stroke-width="0.12" >7</text>
<text x="351.0" y="266.5" font-size="9.6" text-anchor="middle" stroke="#161616" stroke-width="0.12" >2</text>
<text x="357.4" y="346.9" font-size="9.6" text-anchor="middle" stroke="#161616" stroke-width="0.12" >17</text>
<text x="360.6" y="359.4" font-size="9.6" text-anchor="middle" stroke="#161616" stroke-width="0.12" >19</text>
<text x="400.0" y="319.9" font-size="9.6" text-anchor="middle" stroke="#161616" stroke-width="0.12" >14</text>
<text x="415.6" y="311.5" font-size="9.6" text-anchor="middle" stroke="#161616" stroke-width="0.12" >11</text>
<text x="434.4" y="301.9" font-size="9.6" text-anchor="middle" stroke="#161616" stroke-width="0.12" >13</text>
<text x="457.0" y="300.5" font-size="9.6" text-anchor="middle" stroke="#161616" stroke-width="0.12" >24</text>
<text x="467.0" y="294.3" font-size="9.6" text-anchor="middle" stroke="#161616" stroke-width="0.12" >25</text>
<text x="477.0" y="288.9" font-size="9.6" text-anchor="middle" stroke="#161616" stroke-width="0.12" >26</text>
<text x="491.4" y="281.5" font-size="9.6" text-anchor="middle" stroke="#161616" stroke-width="0.12" >10</text>
<text x="296.4" y="377.3" font-size="9.6" text-anchor="middle" stroke="#161616" stroke-width="0.12" >9</text>
<text x="296.4" y="389.5" font-size="9.6" text-anchor="middle" stroke="#161616" stroke-width="0.12" >8</text>
<text x="298.8" y="403.1" font-size="9.6" text-anchor="middle" stroke="#161616" stroke-width="0.12" >20</text>
<text x="268.8" y="420.3" font-size="9.6" text-anchor="middle" stroke="#161616" stroke-width="0.12" >18</text>
<text x="291.5" y="447.5" font-size="9.6" text-anchor="middle" stroke="#161616" stroke-width="0.12" >22</text>
<text x="307.0" y="440.5" font-size="9.6" text-anchor="middle" stroke="#161616" stroke-width="0.12" >22</text>
<text x="338.4" y="434.5" font-size="9.6" text-anchor="middle" stroke="#161616" stroke-width="0.12" >16</text>
<text x="271.7" y="469.9" font-size="9.6" text-anchor="middle" stroke="#161616" stroke-width="0.12" >21</text>
<text x="450.0" y="385.3" font-size="9.6" text-anchor="middle" stroke="#161616" stroke-width="0.12" >33</text>
<text x="228.5" y="508.1" font-size="9.6" text-anchor="middle" stroke="#161616" stroke-width="0.12" >12</text>
<text x="320.5" y="495.9" font-size="9.6" text-anchor="middle" stroke="#161616" stroke-width="0.12" >6</text>
<text x="209.4" y="520.9" font-size="9.6" text-anchor="middle" stroke="#161616" stroke-width="0.12" >38</text>
<text x="194.4" y="554.9" font-size="9.6" text-anchor="middle" stroke="#161616" stroke-width="0.12" >37</text>
<text x="149.0" y="551.9" font-size="9.6" text-anchor="middle" stroke="#161616" stroke-width="0.12" >23</text>
<text x="277.0" y="602.9" font-size="9.6" text-anchor="middle" stroke="#161616" stroke-width="0.12" >15</text>
<text x="358.5" y="570.4" font-size="9.6" text-anchor="middle" stroke="#161616" stroke-width="0.12" >29</text>
<text x="379.2" y="558.9" font-size="9.6" text-anchor="middle" stroke="#161616" stroke-width="0.12" >32</text>
<text x="442.5" y="578.9" font-size="9.6" text-anchor="middle" stroke="#161616" stroke-width="0.12" >27</text>
<text x="473.6" y="496.2" font-size="9.6" text-anchor="middle" stroke="#161616" stroke-width="0.12" >28</text>
<text x="486.6" y="486.9" font-size="9.6" text-anchor="middle" stroke="#161616" stroke-width="0.12" >28</text>
<text x="497.0" y="474.9" font-size="9.6" text-anchor="middle" stroke="#161616" stroke-width="0.12" >31</text>
<text x="514.6" y="471.9" font-size="9.6" text-anchor="middle" stroke="#161616" stroke-width="0.12" >30</text>
<text x="506.4" y="484.3" font-size="9.6" text-anchor="middle" stroke="#161616" stroke-width="0.12" >30</text>
<text x="126.7" y="666.4" font-size="9" text-anchor="start" stroke="#161616" stroke-width="0.12" >DF250_E03_013_091</text>
<text x="126.7" y="678.6" font-size="9" text-anchor="start" stroke="#161616" stroke-width="0.12" >TRANSMISSION</text>
<path d="M160.2,206.2 V213.2 M160.2,211 L159.2,212.4" fill="none" stroke="#1c1c1c" stroke-width="1.2" />
</g>
</svg>
</body></html>
